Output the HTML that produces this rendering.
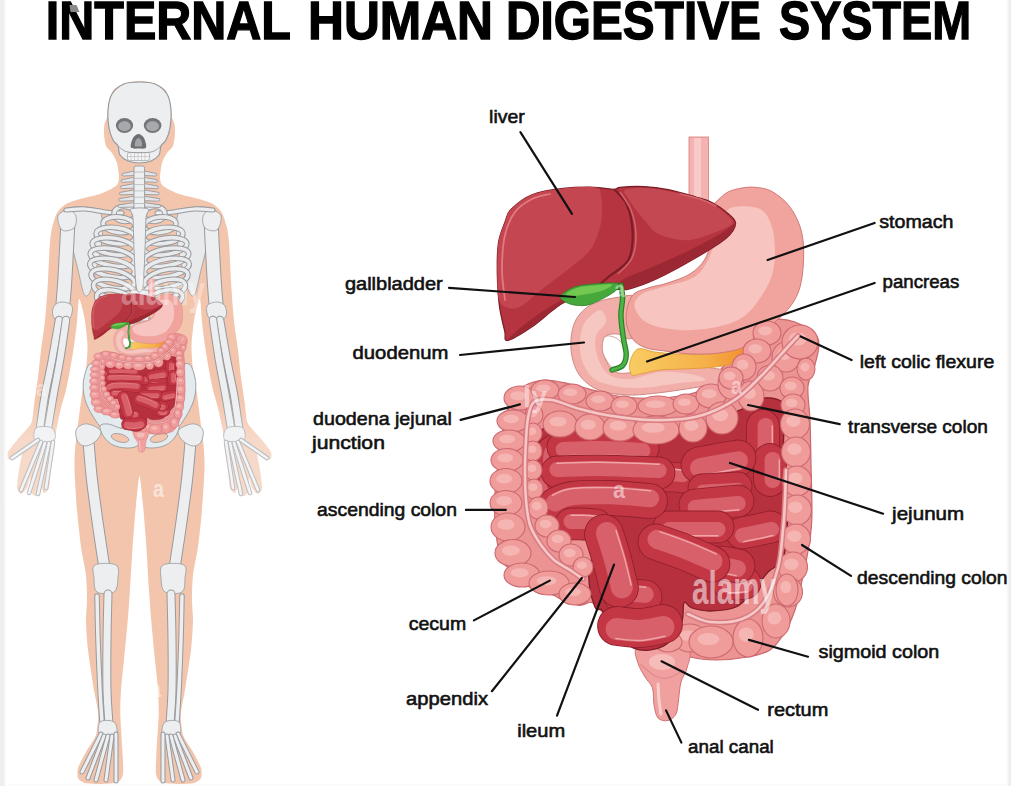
<!DOCTYPE html>
<html><head><meta charset="utf-8"><style>
html,body{margin:0;padding:0;background:#fff;}
body{width:1011px;height:786px;overflow:hidden;}
svg{display:block;}
.lbl{font-family:"Liberation Sans",sans-serif;font-size:19px;fill:#111;stroke:#111;stroke-width:0.6px;}
.ttl{font-family:"Liberation Sans",sans-serif;font-weight:bold;font-size:54px;fill:#000;stroke:#000;stroke-width:1.3px;}
</style></head><body>
<svg width="1011" height="786" viewBox="0 0 1011 786">
<rect x="0" y="0" width="1011" height="786" fill="#fff"/>
<rect x="0" y="0" width="4.2" height="786" fill="#eeeeee"/><rect x="4.2" y="0" width="2" height="786" fill="#f7f7f7"/><rect x="8" y="784" width="1000" height="2" fill="#fafafa"/>
<rect x="1008.2" y="0" width="3" height="786" fill="#eeeeee"/><rect x="1006.5" y="0" width="1.7" height="786" fill="#f8f8f8"/>
<text class="ttl" x="45.8" y="38.6" textLength="245.2" lengthAdjust="spacingAndGlyphs">INTERNAL</text>
<text class="ttl" x="308" y="38.6" textLength="185" lengthAdjust="spacingAndGlyphs">HUMAN</text>
<text class="ttl" x="506" y="38.6" textLength="255" lengthAdjust="spacingAndGlyphs">DIGESTIVE</text>
<text class="ttl" x="779" y="38.6" textLength="192.20000000000002" lengthAdjust="spacingAndGlyphs">SYSTEM</text>
<path d="M139.5,81.0 C136.1,81.0 128.0,82.0 125.0,83.0 C122.0,84.0 115.4,87.8 113.5,90.0 C111.6,92.2 109.7,99.0 109.0,102.0 C108.3,105.0 108.0,113.4 107.5,116.0 C107.0,118.6 104.9,121.9 104.5,124.0 C104.1,126.1 103.8,131.4 104.0,134.0 C104.2,136.6 105.1,143.8 106.0,146.0 C106.9,148.2 110.7,151.0 112.0,153.0 C113.3,155.0 116.2,160.1 117.0,163.0 C117.8,165.9 119.1,175.3 119.0,178.0 C118.9,180.7 118.2,184.1 116.0,186.0 C113.8,187.9 104.2,192.5 100.0,194.0 C95.8,195.5 84.0,197.8 80.0,199.0 C76.0,200.2 68.7,202.4 66.0,204.0 C63.3,205.6 58.6,210.2 57.0,213.0 C55.4,215.8 52.8,224.5 52.0,228.0 C51.2,231.5 50.4,237.1 49.9,243.0 C49.4,248.9 48.5,271.6 48.1,279.0 C47.7,286.4 46.7,300.6 46.3,306.0 C45.9,311.4 45.1,319.9 44.5,325.0 C43.9,330.1 41.7,344.1 41.0,350.0 C40.3,355.9 39.0,369.6 38.2,376.0 C37.4,382.4 34.7,399.6 34.0,405.0 C33.3,410.4 32.7,419.1 31.8,422.0 C30.9,424.9 27.7,427.9 26.0,430.0 C24.3,432.1 19.1,437.4 17.0,440.0 C14.9,442.6 9.0,449.8 8.0,452.0 C7.0,454.2 7.8,458.2 8.5,459.0 C9.2,459.8 12.4,459.8 14.0,459.0 C15.6,458.2 21.4,450.7 22.0,452.0 C22.6,453.3 19.6,465.8 19.0,470.0 C18.4,474.2 16.8,485.2 17.0,488.0 C17.2,490.8 19.8,494.0 21.0,494.0 C22.2,494.0 25.9,489.9 27.0,488.0 C28.1,486.1 29.5,477.5 30.0,478.0 C30.5,478.5 30.3,489.9 31.0,492.0 C31.7,494.1 34.8,496.5 36.0,496.0 C37.2,495.5 40.1,488.4 41.0,488.0 C41.9,487.6 43.1,493.0 44.0,493.0 C44.9,493.0 48.2,490.7 49.0,488.0 C49.8,485.3 50.4,474.2 51.0,470.0 C51.6,465.8 53.4,456.4 54.0,452.0 C54.6,447.6 55.2,437.1 56.0,432.0 C56.8,426.9 59.8,412.9 61.0,408.0 C62.2,403.1 65.0,394.4 66.0,390.0 C67.0,385.6 69.1,375.1 70.0,370.0 C70.9,364.9 73.2,351.6 74.0,346.0 C74.8,340.4 76.5,327.1 77.0,322.0 C77.5,316.9 78.2,304.6 78.5,302.0 C78.8,299.4 79.3,298.1 80.0,300.0 C80.7,301.9 83.6,312.8 84.5,318.0 C85.4,323.2 87.3,338.9 87.5,345.0 C87.7,351.1 86.6,364.3 86.0,370.0 C85.4,375.7 83.0,387.1 82.0,394.0 C81.0,400.9 78.3,422.5 77.5,429.0 C76.7,435.5 75.3,445.2 75.0,450.0 C74.7,454.8 74.3,463.0 74.5,470.0 C74.7,477.0 76.2,501.0 77.0,510.0 C77.8,519.0 80.0,539.4 81.0,547.0 C82.0,554.6 85.3,568.8 86.0,575.0 C86.7,581.2 87.0,594.6 87.0,600.0 C87.0,605.4 85.9,615.2 86.0,621.0 C86.1,626.8 87.1,642.0 88.0,650.0 C88.9,658.0 92.8,682.5 94.0,690.0 C95.2,697.5 98.0,708.8 98.2,714.0 C98.4,719.2 97.4,730.6 96.0,735.0 C94.6,739.4 88.1,748.1 86.0,752.0 C83.9,755.9 78.9,765.0 78.0,768.0 C77.1,771.0 77.2,776.2 78.0,778.0 C78.8,779.8 82.4,782.3 85.0,783.0 C87.6,783.7 96.2,784.1 100.0,784.0 C103.8,783.9 115.3,783.2 118.0,782.0 C120.7,780.8 122.5,777.1 123.0,774.0 C123.5,770.9 123.0,762.0 122.7,755.0 C122.4,748.0 120.5,721.6 120.3,714.0 C120.1,706.4 120.6,696.3 121.0,690.0 C121.4,683.7 123.2,668.0 124.0,660.0 C124.8,652.0 127.0,629.2 127.7,621.0 C128.4,612.8 129.4,598.6 130.0,590.0 C130.6,581.4 131.9,556.9 132.6,547.0 C133.3,537.1 135.2,513.3 136.0,505.0 C136.8,496.7 138.7,476.0 139.5,476.0 C140.3,476.0 142.2,496.7 143.0,505.0 C143.8,513.3 145.7,537.1 146.4,547.0 C147.1,556.9 148.4,581.4 149.0,590.0 C149.6,598.6 150.6,612.8 151.3,621.0 C152.0,629.2 154.2,652.0 155.0,660.0 C155.8,668.0 157.6,683.7 158.0,690.0 C158.4,696.3 158.9,706.4 158.7,714.0 C158.5,721.6 156.6,748.0 156.3,755.0 C156.0,762.0 155.5,770.9 156.0,774.0 C156.5,777.1 158.3,780.8 161.0,782.0 C163.7,783.2 175.2,783.9 179.0,784.0 C182.8,784.1 191.4,783.7 194.0,783.0 C196.6,782.3 200.2,779.8 201.0,778.0 C201.8,776.2 201.9,771.0 201.0,768.0 C200.1,765.0 195.1,755.9 193.0,752.0 C190.9,748.1 184.4,739.4 183.0,735.0 C181.6,730.6 180.6,719.2 180.8,714.0 C181.0,708.8 183.8,697.5 185.0,690.0 C186.2,682.5 190.1,658.0 191.0,650.0 C191.9,642.0 192.9,626.8 193.0,621.0 C193.1,615.2 192.0,605.4 192.0,600.0 C192.0,594.6 192.3,581.2 193.0,575.0 C193.7,568.8 196.9,554.6 198.0,547.0 C199.1,539.4 201.2,519.0 202.0,510.0 C202.8,501.0 204.3,477.0 204.5,470.0 C204.7,463.0 204.3,454.8 204.0,450.0 C203.7,445.2 202.3,435.5 201.5,429.0 C200.7,422.5 198.0,400.9 197.0,394.0 C196.0,387.1 193.6,375.7 193.0,370.0 C192.4,364.3 191.3,351.1 191.5,345.0 C191.7,338.9 193.6,323.2 194.5,318.0 C195.4,312.8 198.3,301.9 199.0,300.0 C199.7,298.1 200.2,299.4 200.5,302.0 C200.8,304.6 201.5,316.9 202.0,322.0 C202.5,327.1 204.2,340.4 205.0,346.0 C205.8,351.6 208.1,364.9 209.0,370.0 C209.9,375.1 211.9,385.6 213.0,390.0 C214.1,394.4 216.8,403.1 218.0,408.0 C219.2,412.9 222.2,426.9 223.0,432.0 C223.8,437.1 224.4,447.6 225.0,452.0 C225.6,456.4 227.4,465.8 228.0,470.0 C228.6,474.2 229.2,485.3 230.0,488.0 C230.8,490.7 234.1,493.0 235.0,493.0 C235.9,493.0 237.1,487.6 238.0,488.0 C238.9,488.4 241.8,495.5 243.0,496.0 C244.2,496.5 247.3,494.1 248.0,492.0 C248.7,489.9 248.5,478.5 249.0,478.0 C249.5,477.5 250.9,486.1 252.0,488.0 C253.1,489.9 256.8,494.0 258.0,494.0 C259.2,494.0 261.8,490.8 262.0,488.0 C262.2,485.2 260.6,474.2 260.0,470.0 C259.4,465.8 256.4,453.3 257.0,452.0 C257.6,450.7 263.4,458.2 265.0,459.0 C266.6,459.8 269.8,459.8 270.5,459.0 C271.2,458.2 272.0,454.2 271.0,452.0 C270.0,449.8 264.1,442.6 262.0,440.0 C259.9,437.4 254.7,432.1 253.0,430.0 C251.3,427.9 248.1,424.9 247.2,422.0 C246.3,419.1 245.7,410.4 245.0,405.0 C244.3,399.6 241.6,382.4 240.8,376.0 C240.0,369.6 238.7,355.9 238.0,350.0 C237.3,344.1 235.1,330.1 234.5,325.0 C233.9,319.9 233.1,311.4 232.7,306.0 C232.3,300.6 231.3,286.4 230.9,279.0 C230.5,271.6 229.6,248.9 229.1,243.0 C228.6,237.1 227.8,231.5 227.0,228.0 C226.2,224.5 223.6,215.8 222.0,213.0 C220.4,210.2 215.7,205.6 213.0,204.0 C210.3,202.4 203.0,200.2 199.0,199.0 C195.0,197.8 183.2,195.5 179.0,194.0 C174.8,192.5 165.2,187.9 163.0,186.0 C160.8,184.1 160.1,180.7 160.0,178.0 C159.9,175.3 161.2,165.9 162.0,163.0 C162.8,160.1 165.7,155.0 167.0,153.0 C168.3,151.0 172.1,148.2 173.0,146.0 C173.9,143.8 174.8,136.6 175.0,134.0 C175.2,131.4 174.9,126.1 174.5,124.0 C174.1,121.9 172.0,118.6 171.5,116.0 C171.0,113.4 170.7,105.0 170.0,102.0 C169.3,99.0 167.4,92.2 165.5,90.0 C163.6,87.8 157.0,84.0 154.0,83.0 C151.0,82.0 142.9,81.0 139.5,81.0Z" fill="#f3c5ac"/>
<path d="M64.0,210.0 C67.0,207.5 74.0,206.7 80.0,207.0 C86.0,207.3 96.3,206.5 100.0,212.0 C103.7,217.5 102.7,230.3 102.0,240.0 C101.3,249.7 98.0,261.3 96.0,270.0 C94.0,278.7 92.0,288.0 90.0,292.0 C88.0,296.0 86.0,297.7 84.0,294.0 C82.0,290.3 80.3,279.0 78.0,270.0 C75.7,261.0 72.7,248.0 70.0,240.0 C67.3,232.0 63.0,227.0 62.0,222.0 C61.0,217.0 61.0,212.5 64.0,210.0Z" fill="#e9eaec" stroke="#979a9e" stroke-width="0.8" />
<path d="M68.0,220.0 C67.8,225.0 67.1,239.2 66.5,250.0 C65.9,260.8 65.2,275.0 64.5,285.0 C63.8,295.0 62.8,305.8 62.5,310.0" fill="none" stroke="#979a9e" stroke-width="15.0" stroke-linecap="round" stroke-linejoin="round"/><path d="M68.0,220.0 C67.8,225.0 67.1,239.2 66.5,250.0 C65.9,260.8 65.2,275.0 64.5,285.0 C63.8,295.0 62.8,305.8 62.5,310.0" fill="none" stroke="#eceef0" stroke-width="13" stroke-linecap="round" stroke-linejoin="round"/>
<path d="M58.0,216.0 C59.0,212.7 65.0,210.0 68.0,210.0 C71.0,210.0 75.0,213.0 76.0,216.0 C77.0,219.0 76.3,225.7 74.0,228.0 C71.7,230.3 64.7,232.0 62.0,230.0 C59.3,228.0 57.0,219.3 58.0,216.0Z" fill="#eceef0" stroke="#979a9e" stroke-width="0.8" />
<path d="M54.0,306.0 C55.5,303.7 59.0,302.0 62.0,302.0 C65.0,302.0 70.7,303.3 72.0,306.0 C73.3,308.7 72.0,315.3 70.0,318.0 C68.0,320.7 62.8,322.3 60.0,322.0 C57.2,321.7 54.0,318.7 53.0,316.0 C52.0,313.3 52.5,308.3 54.0,306.0Z" fill="#eceef0" stroke="#979a9e" stroke-width="0.8" />
<path d="M59.0,320.0 C57.8,326.7 54.3,347.5 52.0,360.0 C49.7,372.5 47.0,383.7 45.0,395.0 C43.0,406.3 40.8,422.5 40.0,428.0" fill="none" stroke="#979a9e" stroke-width="8.5" stroke-linecap="round" stroke-linejoin="round"/><path d="M59.0,320.0 C57.8,326.7 54.3,347.5 52.0,360.0 C49.7,372.5 47.0,383.7 45.0,395.0 C43.0,406.3 40.8,422.5 40.0,428.0" fill="none" stroke="#eceef0" stroke-width="6.5" stroke-linecap="round" stroke-linejoin="round"/>
<path d="M66.0,320.0 C65.0,326.7 62.1,347.5 60.0,360.0 C57.9,372.5 55.5,383.7 53.5,395.0 C51.5,406.3 48.9,422.5 48.0,428.0" fill="none" stroke="#979a9e" stroke-width="8.5" stroke-linecap="round" stroke-linejoin="round"/><path d="M66.0,320.0 C65.0,326.7 62.1,347.5 60.0,360.0 C57.9,372.5 55.5,383.7 53.5,395.0 C51.5,406.3 48.9,422.5 48.0,428.0" fill="none" stroke="#eceef0" stroke-width="6.5" stroke-linecap="round" stroke-linejoin="round"/>
<path d="M36.0,428.0 C38.7,425.7 49.0,426.0 52.0,428.0 C55.0,430.0 56.7,437.7 54.0,440.0 C51.3,442.3 39.0,444.0 36.0,442.0 C33.0,440.0 33.3,430.3 36.0,428.0Z" fill="#eceef0" stroke="#979a9e" stroke-width="0.8" />
<path d="M38.0,440.0 C33.7,443.0 16.3,455.0 12.0,458.0" fill="none" stroke="#979a9e" stroke-width="4.6" stroke-linecap="round" stroke-linejoin="round"/><path d="M38.0,440.0 C33.7,443.0 16.3,455.0 12.0,458.0" fill="none" stroke="#eceef0" stroke-width="2.6" stroke-linecap="round" stroke-linejoin="round"/>
<path d="M41.0,442.0 C37.7,450.0 24.3,482.0 21.0,490.0" fill="none" stroke="#979a9e" stroke-width="4.6" stroke-linecap="round" stroke-linejoin="round"/><path d="M41.0,442.0 C37.7,450.0 24.3,482.0 21.0,490.0" fill="none" stroke="#eceef0" stroke-width="2.6" stroke-linecap="round" stroke-linejoin="round"/>
<path d="M45.0,443.0 C42.3,451.3 31.7,484.7 29.0,493.0" fill="none" stroke="#979a9e" stroke-width="4.6" stroke-linecap="round" stroke-linejoin="round"/><path d="M45.0,443.0 C42.3,451.3 31.7,484.7 29.0,493.0" fill="none" stroke="#eceef0" stroke-width="2.6" stroke-linecap="round" stroke-linejoin="round"/>
<path d="M49.0,443.0 C47.2,451.5 39.8,485.5 38.0,494.0" fill="none" stroke="#979a9e" stroke-width="4.6" stroke-linecap="round" stroke-linejoin="round"/><path d="M49.0,443.0 C47.2,451.5 39.8,485.5 38.0,494.0" fill="none" stroke="#eceef0" stroke-width="2.6" stroke-linecap="round" stroke-linejoin="round"/>
<path d="M53.0,442.0 C51.8,449.7 47.2,480.3 46.0,488.0" fill="none" stroke="#979a9e" stroke-width="4.6" stroke-linecap="round" stroke-linejoin="round"/><path d="M53.0,442.0 C51.8,449.7 47.2,480.3 46.0,488.0" fill="none" stroke="#eceef0" stroke-width="2.6" stroke-linecap="round" stroke-linejoin="round"/>
<path d="M66.0,210.0 C69.2,209.8 78.5,208.7 85.0,209.0 C91.5,209.3 98.8,211.3 105.0,212.0 C111.2,212.7 119.2,212.8 122.0,213.0" fill="none" stroke="#979a9e" stroke-width="5.2" stroke-linecap="round" stroke-linejoin="round"/><path d="M66.0,210.0 C69.2,209.8 78.5,208.7 85.0,209.0 C91.5,209.3 98.8,211.3 105.0,212.0 C111.2,212.7 119.2,212.8 122.0,213.0" fill="none" stroke="#eceef0" stroke-width="3.2" stroke-linecap="round" stroke-linejoin="round"/>
<ellipse cx="124.5" cy="214.0" rx="10.5" ry="7.5" transform="rotate(4.0 124.5 214.0)" fill="none" stroke="#979a9e" stroke-width="5.6"/>
<ellipse cx="124.5" cy="214.0" rx="10.5" ry="7.5" transform="rotate(4.0 124.5 214.0)" fill="none" stroke="#e9eaec" stroke-width="3.6"/>
<ellipse cx="119.0" cy="224.8" rx="16.0" ry="7.8" transform="rotate(5.5 119.0 224.8)" fill="none" stroke="#979a9e" stroke-width="5.6"/>
<ellipse cx="119.0" cy="224.8" rx="16.0" ry="7.8" transform="rotate(5.5 119.0 224.8)" fill="none" stroke="#e9eaec" stroke-width="3.6"/>
<ellipse cx="115.5" cy="235.6" rx="19.5" ry="8.0" transform="rotate(7.0 115.5 235.6)" fill="none" stroke="#979a9e" stroke-width="5.6"/>
<ellipse cx="115.5" cy="235.6" rx="19.5" ry="8.0" transform="rotate(7.0 115.5 235.6)" fill="none" stroke="#e9eaec" stroke-width="3.6"/>
<ellipse cx="113.5" cy="246.4" rx="21.5" ry="8.2" transform="rotate(8.5 113.5 246.4)" fill="none" stroke="#979a9e" stroke-width="5.6"/>
<ellipse cx="113.5" cy="246.4" rx="21.5" ry="8.2" transform="rotate(8.5 113.5 246.4)" fill="none" stroke="#e9eaec" stroke-width="3.6"/>
<ellipse cx="112.5" cy="257.2" rx="22.5" ry="8.5" transform="rotate(10.0 112.5 257.2)" fill="none" stroke="#979a9e" stroke-width="5.6"/>
<ellipse cx="112.5" cy="257.2" rx="22.5" ry="8.5" transform="rotate(10.0 112.5 257.2)" fill="none" stroke="#e9eaec" stroke-width="3.6"/>
<ellipse cx="112.2" cy="268.0" rx="22.8" ry="8.8" transform="rotate(11.5 112.2 268.0)" fill="none" stroke="#979a9e" stroke-width="5.6"/>
<ellipse cx="112.2" cy="268.0" rx="22.8" ry="8.8" transform="rotate(11.5 112.2 268.0)" fill="none" stroke="#e9eaec" stroke-width="3.6"/>
<ellipse cx="112.8" cy="278.8" rx="22.2" ry="9.0" transform="rotate(13.0 112.8 278.8)" fill="none" stroke="#979a9e" stroke-width="5.6"/>
<ellipse cx="112.8" cy="278.8" rx="22.2" ry="9.0" transform="rotate(13.0 112.8 278.8)" fill="none" stroke="#e9eaec" stroke-width="3.6"/>
<ellipse cx="114.0" cy="289.6" rx="21.0" ry="9.2" transform="rotate(14.5 114.0 289.6)" fill="none" stroke="#979a9e" stroke-width="5.6"/>
<ellipse cx="114.0" cy="289.6" rx="21.0" ry="9.2" transform="rotate(14.5 114.0 289.6)" fill="none" stroke="#e9eaec" stroke-width="3.6"/>
<ellipse cx="115.5" cy="300.4" rx="19.5" ry="9.5" transform="rotate(16.0 115.5 300.4)" fill="none" stroke="#979a9e" stroke-width="5.6"/>
<ellipse cx="115.5" cy="300.4" rx="19.5" ry="9.5" transform="rotate(16.0 115.5 300.4)" fill="none" stroke="#e9eaec" stroke-width="3.6"/>
<ellipse cx="117.5" cy="311.2" rx="17.5" ry="9.8" transform="rotate(17.5 117.5 311.2)" fill="none" stroke="#979a9e" stroke-width="5.6"/>
<ellipse cx="117.5" cy="311.2" rx="17.5" ry="9.8" transform="rotate(17.5 117.5 311.2)" fill="none" stroke="#e9eaec" stroke-width="3.6"/>
<path d="M90.0,364.0 C86.7,365.7 85.1,373.3 84.0,378.0 C82.9,382.7 83.0,387.5 83.5,392.0 C84.0,396.5 85.2,400.7 87.0,405.0 C88.8,409.3 91.5,414.2 94.0,418.0 C96.5,421.8 99.0,426.0 102.0,428.0 C105.0,430.0 108.7,430.2 112.0,430.0 C115.3,429.8 119.3,429.7 122.0,427.0 C124.7,424.3 127.3,419.2 128.0,414.0 C128.7,408.8 128.0,401.7 126.0,396.0 C124.0,390.3 119.7,384.7 116.0,380.0 C112.3,375.3 108.3,370.7 104.0,368.0 C99.7,365.3 93.3,362.3 90.0,364.0Z" fill="#e4ebef" stroke="#979a9e" stroke-width="0.9" />
<path d="M100.0,426.0 C99.3,428.2 101.8,433.8 104.0,437.0 C106.2,440.2 109.3,443.2 113.0,445.0 C116.7,446.8 122.0,447.8 126.0,448.0 C130.0,448.2 134.8,447.7 137.0,446.0 C139.2,444.3 140.2,440.5 139.5,438.0 C138.8,435.5 136.2,432.7 133.0,431.0 C129.8,429.3 124.2,429.2 120.0,428.0 C115.8,426.8 111.3,424.3 108.0,424.0 C104.7,423.7 100.7,423.8 100.0,426.0Z" fill="#e4ebef" stroke="#979a9e" stroke-width="0.9" />
<ellipse cx="120" cy="438" rx="9" ry="4" transform="rotate(15 120 438)" fill="#f3c5ac" stroke="#979a9e" stroke-width="0.8"/>
<path d="M88.0,436.0 C88.7,443.3 90.3,465.2 92.0,480.0 C93.7,494.8 96.0,510.8 98.0,525.0 C100.0,539.2 103.0,558.3 104.0,565.0" fill="none" stroke="#979a9e" stroke-width="12.0" stroke-linecap="round" stroke-linejoin="round"/><path d="M88.0,436.0 C88.7,443.3 90.3,465.2 92.0,480.0 C93.7,494.8 96.0,510.8 98.0,525.0 C100.0,539.2 103.0,558.3 104.0,565.0" fill="none" stroke="#eceef0" stroke-width="10" stroke-linecap="round" stroke-linejoin="round"/>
<path d="M76.0,430.0 C77.0,427.0 81.0,424.7 84.0,424.0 C87.0,423.3 91.2,424.7 94.0,426.0 C96.8,427.3 100.7,429.5 101.0,432.0 C101.3,434.5 98.5,438.7 96.0,441.0 C93.5,443.3 89.0,445.8 86.0,446.0 C83.0,446.2 79.7,444.7 78.0,442.0 C76.3,439.3 75.0,433.0 76.0,430.0Z" fill="#eceef0" stroke="#979a9e" stroke-width="0.8" />
<path d="M95.0,565.0 C98.7,562.8 112.2,562.8 116.0,565.0 C119.8,567.2 118.3,573.5 118.0,578.0 C117.7,582.5 117.5,589.7 114.0,592.0 C110.5,594.3 100.3,594.3 97.0,592.0 C93.7,589.7 94.3,582.5 94.0,578.0 C93.7,573.5 91.3,567.2 95.0,565.0Z" fill="#eceef0" stroke="#979a9e" stroke-width="0.8" />
<path d="M108.0,594.0 C107.8,601.7 107.2,624.0 107.0,640.0 C106.8,656.0 106.7,676.0 107.0,690.0 C107.3,704.0 108.7,718.3 109.0,724.0" fill="none" stroke="#979a9e" stroke-width="9.0" stroke-linecap="round" stroke-linejoin="round"/><path d="M108.0,594.0 C107.8,601.7 107.2,624.0 107.0,640.0 C106.8,656.0 106.7,676.0 107.0,690.0 C107.3,704.0 108.7,718.3 109.0,724.0" fill="none" stroke="#eceef0" stroke-width="7" stroke-linecap="round" stroke-linejoin="round"/>
<path d="M97.0,596.0 C97.2,603.3 97.5,624.3 98.0,640.0 C98.5,655.7 99.3,676.3 100.0,690.0 C100.7,703.7 101.7,716.7 102.0,722.0" fill="none" stroke="#979a9e" stroke-width="5.5" stroke-linecap="round" stroke-linejoin="round"/><path d="M97.0,596.0 C97.2,603.3 97.5,624.3 98.0,640.0 C98.5,655.7 99.3,676.3 100.0,690.0 C100.7,703.7 101.7,716.7 102.0,722.0" fill="none" stroke="#eceef0" stroke-width="3.5" stroke-linecap="round" stroke-linejoin="round"/>
<path d="M100.0,722.0 C102.3,719.7 111.3,720.0 114.0,722.0 C116.7,724.0 118.3,731.7 116.0,734.0 C113.7,736.3 102.7,738.0 100.0,736.0 C97.3,734.0 97.7,724.3 100.0,722.0Z" fill="#eceef0" stroke="#979a9e" stroke-width="0.8" />
<path d="M101.0,734.0 C97.8,740.3 85.2,765.7 82.0,772.0" fill="none" stroke="#979a9e" stroke-width="5.0" stroke-linecap="round" stroke-linejoin="round"/><path d="M101.0,734.0 C97.8,740.3 85.2,765.7 82.0,772.0" fill="none" stroke="#eceef0" stroke-width="3" stroke-linecap="round" stroke-linejoin="round"/>
<path d="M104.0,736.0 C101.3,743.0 90.7,771.0 88.0,778.0" fill="none" stroke="#979a9e" stroke-width="5.0" stroke-linecap="round" stroke-linejoin="round"/><path d="M104.0,736.0 C101.3,743.0 90.7,771.0 88.0,778.0" fill="none" stroke="#eceef0" stroke-width="3" stroke-linecap="round" stroke-linejoin="round"/>
<path d="M108.0,736.0 C106.0,743.3 98.0,772.7 96.0,780.0" fill="none" stroke="#979a9e" stroke-width="5.0" stroke-linecap="round" stroke-linejoin="round"/><path d="M108.0,736.0 C106.0,743.3 98.0,772.7 96.0,780.0" fill="none" stroke="#eceef0" stroke-width="3" stroke-linecap="round" stroke-linejoin="round"/>
<path d="M112.0,736.0 C111.0,743.3 107.0,772.7 106.0,780.0" fill="none" stroke="#979a9e" stroke-width="5.0" stroke-linecap="round" stroke-linejoin="round"/><path d="M112.0,736.0 C111.0,743.3 107.0,772.7 106.0,780.0" fill="none" stroke="#eceef0" stroke-width="3" stroke-linecap="round" stroke-linejoin="round"/>
<path d="M116.0,734.0 C116.0,741.8 116.0,773.2 116.0,781.0" fill="none" stroke="#979a9e" stroke-width="5.0" stroke-linecap="round" stroke-linejoin="round"/><path d="M116.0,734.0 C116.0,741.8 116.0,773.2 116.0,781.0" fill="none" stroke="#eceef0" stroke-width="3" stroke-linecap="round" stroke-linejoin="round"/>
<g transform="matrix(-1,0,0,1,279,0)"><path d="M64.0,210.0 C67.0,207.5 74.0,206.7 80.0,207.0 C86.0,207.3 96.3,206.5 100.0,212.0 C103.7,217.5 102.7,230.3 102.0,240.0 C101.3,249.7 98.0,261.3 96.0,270.0 C94.0,278.7 92.0,288.0 90.0,292.0 C88.0,296.0 86.0,297.7 84.0,294.0 C82.0,290.3 80.3,279.0 78.0,270.0 C75.7,261.0 72.7,248.0 70.0,240.0 C67.3,232.0 63.0,227.0 62.0,222.0 C61.0,217.0 61.0,212.5 64.0,210.0Z" fill="#e9eaec" stroke="#979a9e" stroke-width="0.8" />
<path d="M68.0,220.0 C67.8,225.0 67.1,239.2 66.5,250.0 C65.9,260.8 65.2,275.0 64.5,285.0 C63.8,295.0 62.8,305.8 62.5,310.0" fill="none" stroke="#979a9e" stroke-width="15.0" stroke-linecap="round" stroke-linejoin="round"/><path d="M68.0,220.0 C67.8,225.0 67.1,239.2 66.5,250.0 C65.9,260.8 65.2,275.0 64.5,285.0 C63.8,295.0 62.8,305.8 62.5,310.0" fill="none" stroke="#eceef0" stroke-width="13" stroke-linecap="round" stroke-linejoin="round"/>
<path d="M58.0,216.0 C59.0,212.7 65.0,210.0 68.0,210.0 C71.0,210.0 75.0,213.0 76.0,216.0 C77.0,219.0 76.3,225.7 74.0,228.0 C71.7,230.3 64.7,232.0 62.0,230.0 C59.3,228.0 57.0,219.3 58.0,216.0Z" fill="#eceef0" stroke="#979a9e" stroke-width="0.8" />
<path d="M54.0,306.0 C55.5,303.7 59.0,302.0 62.0,302.0 C65.0,302.0 70.7,303.3 72.0,306.0 C73.3,308.7 72.0,315.3 70.0,318.0 C68.0,320.7 62.8,322.3 60.0,322.0 C57.2,321.7 54.0,318.7 53.0,316.0 C52.0,313.3 52.5,308.3 54.0,306.0Z" fill="#eceef0" stroke="#979a9e" stroke-width="0.8" />
<path d="M59.0,320.0 C57.8,326.7 54.3,347.5 52.0,360.0 C49.7,372.5 47.0,383.7 45.0,395.0 C43.0,406.3 40.8,422.5 40.0,428.0" fill="none" stroke="#979a9e" stroke-width="8.5" stroke-linecap="round" stroke-linejoin="round"/><path d="M59.0,320.0 C57.8,326.7 54.3,347.5 52.0,360.0 C49.7,372.5 47.0,383.7 45.0,395.0 C43.0,406.3 40.8,422.5 40.0,428.0" fill="none" stroke="#eceef0" stroke-width="6.5" stroke-linecap="round" stroke-linejoin="round"/>
<path d="M66.0,320.0 C65.0,326.7 62.1,347.5 60.0,360.0 C57.9,372.5 55.5,383.7 53.5,395.0 C51.5,406.3 48.9,422.5 48.0,428.0" fill="none" stroke="#979a9e" stroke-width="8.5" stroke-linecap="round" stroke-linejoin="round"/><path d="M66.0,320.0 C65.0,326.7 62.1,347.5 60.0,360.0 C57.9,372.5 55.5,383.7 53.5,395.0 C51.5,406.3 48.9,422.5 48.0,428.0" fill="none" stroke="#eceef0" stroke-width="6.5" stroke-linecap="round" stroke-linejoin="round"/>
<path d="M36.0,428.0 C38.7,425.7 49.0,426.0 52.0,428.0 C55.0,430.0 56.7,437.7 54.0,440.0 C51.3,442.3 39.0,444.0 36.0,442.0 C33.0,440.0 33.3,430.3 36.0,428.0Z" fill="#eceef0" stroke="#979a9e" stroke-width="0.8" />
<path d="M38.0,440.0 C33.7,443.0 16.3,455.0 12.0,458.0" fill="none" stroke="#979a9e" stroke-width="4.6" stroke-linecap="round" stroke-linejoin="round"/><path d="M38.0,440.0 C33.7,443.0 16.3,455.0 12.0,458.0" fill="none" stroke="#eceef0" stroke-width="2.6" stroke-linecap="round" stroke-linejoin="round"/>
<path d="M41.0,442.0 C37.7,450.0 24.3,482.0 21.0,490.0" fill="none" stroke="#979a9e" stroke-width="4.6" stroke-linecap="round" stroke-linejoin="round"/><path d="M41.0,442.0 C37.7,450.0 24.3,482.0 21.0,490.0" fill="none" stroke="#eceef0" stroke-width="2.6" stroke-linecap="round" stroke-linejoin="round"/>
<path d="M45.0,443.0 C42.3,451.3 31.7,484.7 29.0,493.0" fill="none" stroke="#979a9e" stroke-width="4.6" stroke-linecap="round" stroke-linejoin="round"/><path d="M45.0,443.0 C42.3,451.3 31.7,484.7 29.0,493.0" fill="none" stroke="#eceef0" stroke-width="2.6" stroke-linecap="round" stroke-linejoin="round"/>
<path d="M49.0,443.0 C47.2,451.5 39.8,485.5 38.0,494.0" fill="none" stroke="#979a9e" stroke-width="4.6" stroke-linecap="round" stroke-linejoin="round"/><path d="M49.0,443.0 C47.2,451.5 39.8,485.5 38.0,494.0" fill="none" stroke="#eceef0" stroke-width="2.6" stroke-linecap="round" stroke-linejoin="round"/>
<path d="M53.0,442.0 C51.8,449.7 47.2,480.3 46.0,488.0" fill="none" stroke="#979a9e" stroke-width="4.6" stroke-linecap="round" stroke-linejoin="round"/><path d="M53.0,442.0 C51.8,449.7 47.2,480.3 46.0,488.0" fill="none" stroke="#eceef0" stroke-width="2.6" stroke-linecap="round" stroke-linejoin="round"/>
<path d="M66.0,210.0 C69.2,209.8 78.5,208.7 85.0,209.0 C91.5,209.3 98.8,211.3 105.0,212.0 C111.2,212.7 119.2,212.8 122.0,213.0" fill="none" stroke="#979a9e" stroke-width="5.2" stroke-linecap="round" stroke-linejoin="round"/><path d="M66.0,210.0 C69.2,209.8 78.5,208.7 85.0,209.0 C91.5,209.3 98.8,211.3 105.0,212.0 C111.2,212.7 119.2,212.8 122.0,213.0" fill="none" stroke="#eceef0" stroke-width="3.2" stroke-linecap="round" stroke-linejoin="round"/>
<ellipse cx="124.5" cy="214.0" rx="10.5" ry="7.5" transform="rotate(4.0 124.5 214.0)" fill="none" stroke="#979a9e" stroke-width="5.6"/>
<ellipse cx="124.5" cy="214.0" rx="10.5" ry="7.5" transform="rotate(4.0 124.5 214.0)" fill="none" stroke="#e9eaec" stroke-width="3.6"/>
<ellipse cx="119.0" cy="224.8" rx="16.0" ry="7.8" transform="rotate(5.5 119.0 224.8)" fill="none" stroke="#979a9e" stroke-width="5.6"/>
<ellipse cx="119.0" cy="224.8" rx="16.0" ry="7.8" transform="rotate(5.5 119.0 224.8)" fill="none" stroke="#e9eaec" stroke-width="3.6"/>
<ellipse cx="115.5" cy="235.6" rx="19.5" ry="8.0" transform="rotate(7.0 115.5 235.6)" fill="none" stroke="#979a9e" stroke-width="5.6"/>
<ellipse cx="115.5" cy="235.6" rx="19.5" ry="8.0" transform="rotate(7.0 115.5 235.6)" fill="none" stroke="#e9eaec" stroke-width="3.6"/>
<ellipse cx="113.5" cy="246.4" rx="21.5" ry="8.2" transform="rotate(8.5 113.5 246.4)" fill="none" stroke="#979a9e" stroke-width="5.6"/>
<ellipse cx="113.5" cy="246.4" rx="21.5" ry="8.2" transform="rotate(8.5 113.5 246.4)" fill="none" stroke="#e9eaec" stroke-width="3.6"/>
<ellipse cx="112.5" cy="257.2" rx="22.5" ry="8.5" transform="rotate(10.0 112.5 257.2)" fill="none" stroke="#979a9e" stroke-width="5.6"/>
<ellipse cx="112.5" cy="257.2" rx="22.5" ry="8.5" transform="rotate(10.0 112.5 257.2)" fill="none" stroke="#e9eaec" stroke-width="3.6"/>
<ellipse cx="112.2" cy="268.0" rx="22.8" ry="8.8" transform="rotate(11.5 112.2 268.0)" fill="none" stroke="#979a9e" stroke-width="5.6"/>
<ellipse cx="112.2" cy="268.0" rx="22.8" ry="8.8" transform="rotate(11.5 112.2 268.0)" fill="none" stroke="#e9eaec" stroke-width="3.6"/>
<ellipse cx="112.8" cy="278.8" rx="22.2" ry="9.0" transform="rotate(13.0 112.8 278.8)" fill="none" stroke="#979a9e" stroke-width="5.6"/>
<ellipse cx="112.8" cy="278.8" rx="22.2" ry="9.0" transform="rotate(13.0 112.8 278.8)" fill="none" stroke="#e9eaec" stroke-width="3.6"/>
<ellipse cx="114.0" cy="289.6" rx="21.0" ry="9.2" transform="rotate(14.5 114.0 289.6)" fill="none" stroke="#979a9e" stroke-width="5.6"/>
<ellipse cx="114.0" cy="289.6" rx="21.0" ry="9.2" transform="rotate(14.5 114.0 289.6)" fill="none" stroke="#e9eaec" stroke-width="3.6"/>
<ellipse cx="115.5" cy="300.4" rx="19.5" ry="9.5" transform="rotate(16.0 115.5 300.4)" fill="none" stroke="#979a9e" stroke-width="5.6"/>
<ellipse cx="115.5" cy="300.4" rx="19.5" ry="9.5" transform="rotate(16.0 115.5 300.4)" fill="none" stroke="#e9eaec" stroke-width="3.6"/>
<ellipse cx="117.5" cy="311.2" rx="17.5" ry="9.8" transform="rotate(17.5 117.5 311.2)" fill="none" stroke="#979a9e" stroke-width="5.6"/>
<ellipse cx="117.5" cy="311.2" rx="17.5" ry="9.8" transform="rotate(17.5 117.5 311.2)" fill="none" stroke="#e9eaec" stroke-width="3.6"/>
<path d="M90.0,364.0 C86.7,365.7 85.1,373.3 84.0,378.0 C82.9,382.7 83.0,387.5 83.5,392.0 C84.0,396.5 85.2,400.7 87.0,405.0 C88.8,409.3 91.5,414.2 94.0,418.0 C96.5,421.8 99.0,426.0 102.0,428.0 C105.0,430.0 108.7,430.2 112.0,430.0 C115.3,429.8 119.3,429.7 122.0,427.0 C124.7,424.3 127.3,419.2 128.0,414.0 C128.7,408.8 128.0,401.7 126.0,396.0 C124.0,390.3 119.7,384.7 116.0,380.0 C112.3,375.3 108.3,370.7 104.0,368.0 C99.7,365.3 93.3,362.3 90.0,364.0Z" fill="#e4ebef" stroke="#979a9e" stroke-width="0.9" />
<path d="M100.0,426.0 C99.3,428.2 101.8,433.8 104.0,437.0 C106.2,440.2 109.3,443.2 113.0,445.0 C116.7,446.8 122.0,447.8 126.0,448.0 C130.0,448.2 134.8,447.7 137.0,446.0 C139.2,444.3 140.2,440.5 139.5,438.0 C138.8,435.5 136.2,432.7 133.0,431.0 C129.8,429.3 124.2,429.2 120.0,428.0 C115.8,426.8 111.3,424.3 108.0,424.0 C104.7,423.7 100.7,423.8 100.0,426.0Z" fill="#e4ebef" stroke="#979a9e" stroke-width="0.9" />
<ellipse cx="120" cy="438" rx="9" ry="4" transform="rotate(15 120 438)" fill="#f3c5ac" stroke="#979a9e" stroke-width="0.8"/>
<path d="M88.0,436.0 C88.7,443.3 90.3,465.2 92.0,480.0 C93.7,494.8 96.0,510.8 98.0,525.0 C100.0,539.2 103.0,558.3 104.0,565.0" fill="none" stroke="#979a9e" stroke-width="12.0" stroke-linecap="round" stroke-linejoin="round"/><path d="M88.0,436.0 C88.7,443.3 90.3,465.2 92.0,480.0 C93.7,494.8 96.0,510.8 98.0,525.0 C100.0,539.2 103.0,558.3 104.0,565.0" fill="none" stroke="#eceef0" stroke-width="10" stroke-linecap="round" stroke-linejoin="round"/>
<path d="M76.0,430.0 C77.0,427.0 81.0,424.7 84.0,424.0 C87.0,423.3 91.2,424.7 94.0,426.0 C96.8,427.3 100.7,429.5 101.0,432.0 C101.3,434.5 98.5,438.7 96.0,441.0 C93.5,443.3 89.0,445.8 86.0,446.0 C83.0,446.2 79.7,444.7 78.0,442.0 C76.3,439.3 75.0,433.0 76.0,430.0Z" fill="#eceef0" stroke="#979a9e" stroke-width="0.8" />
<path d="M95.0,565.0 C98.7,562.8 112.2,562.8 116.0,565.0 C119.8,567.2 118.3,573.5 118.0,578.0 C117.7,582.5 117.5,589.7 114.0,592.0 C110.5,594.3 100.3,594.3 97.0,592.0 C93.7,589.7 94.3,582.5 94.0,578.0 C93.7,573.5 91.3,567.2 95.0,565.0Z" fill="#eceef0" stroke="#979a9e" stroke-width="0.8" />
<path d="M108.0,594.0 C107.8,601.7 107.2,624.0 107.0,640.0 C106.8,656.0 106.7,676.0 107.0,690.0 C107.3,704.0 108.7,718.3 109.0,724.0" fill="none" stroke="#979a9e" stroke-width="9.0" stroke-linecap="round" stroke-linejoin="round"/><path d="M108.0,594.0 C107.8,601.7 107.2,624.0 107.0,640.0 C106.8,656.0 106.7,676.0 107.0,690.0 C107.3,704.0 108.7,718.3 109.0,724.0" fill="none" stroke="#eceef0" stroke-width="7" stroke-linecap="round" stroke-linejoin="round"/>
<path d="M97.0,596.0 C97.2,603.3 97.5,624.3 98.0,640.0 C98.5,655.7 99.3,676.3 100.0,690.0 C100.7,703.7 101.7,716.7 102.0,722.0" fill="none" stroke="#979a9e" stroke-width="5.5" stroke-linecap="round" stroke-linejoin="round"/><path d="M97.0,596.0 C97.2,603.3 97.5,624.3 98.0,640.0 C98.5,655.7 99.3,676.3 100.0,690.0 C100.7,703.7 101.7,716.7 102.0,722.0" fill="none" stroke="#eceef0" stroke-width="3.5" stroke-linecap="round" stroke-linejoin="round"/>
<path d="M100.0,722.0 C102.3,719.7 111.3,720.0 114.0,722.0 C116.7,724.0 118.3,731.7 116.0,734.0 C113.7,736.3 102.7,738.0 100.0,736.0 C97.3,734.0 97.7,724.3 100.0,722.0Z" fill="#eceef0" stroke="#979a9e" stroke-width="0.8" />
<path d="M101.0,734.0 C97.8,740.3 85.2,765.7 82.0,772.0" fill="none" stroke="#979a9e" stroke-width="5.0" stroke-linecap="round" stroke-linejoin="round"/><path d="M101.0,734.0 C97.8,740.3 85.2,765.7 82.0,772.0" fill="none" stroke="#eceef0" stroke-width="3" stroke-linecap="round" stroke-linejoin="round"/>
<path d="M104.0,736.0 C101.3,743.0 90.7,771.0 88.0,778.0" fill="none" stroke="#979a9e" stroke-width="5.0" stroke-linecap="round" stroke-linejoin="round"/><path d="M104.0,736.0 C101.3,743.0 90.7,771.0 88.0,778.0" fill="none" stroke="#eceef0" stroke-width="3" stroke-linecap="round" stroke-linejoin="round"/>
<path d="M108.0,736.0 C106.0,743.3 98.0,772.7 96.0,780.0" fill="none" stroke="#979a9e" stroke-width="5.0" stroke-linecap="round" stroke-linejoin="round"/><path d="M108.0,736.0 C106.0,743.3 98.0,772.7 96.0,780.0" fill="none" stroke="#eceef0" stroke-width="3" stroke-linecap="round" stroke-linejoin="round"/>
<path d="M112.0,736.0 C111.0,743.3 107.0,772.7 106.0,780.0" fill="none" stroke="#979a9e" stroke-width="5.0" stroke-linecap="round" stroke-linejoin="round"/><path d="M112.0,736.0 C111.0,743.3 107.0,772.7 106.0,780.0" fill="none" stroke="#eceef0" stroke-width="3" stroke-linecap="round" stroke-linejoin="round"/>
<path d="M116.0,734.0 C116.0,741.8 116.0,773.2 116.0,781.0" fill="none" stroke="#979a9e" stroke-width="5.0" stroke-linecap="round" stroke-linejoin="round"/><path d="M116.0,734.0 C116.0,741.8 116.0,773.2 116.0,781.0" fill="none" stroke="#eceef0" stroke-width="3" stroke-linecap="round" stroke-linejoin="round"/></g>
<path d="M134.3,171.0 L122.30000000000001,173.5 Q120.80000000000001,175.5 123.30000000000001,176.0 L134.3,175.5Z" fill="#e4e5e8" stroke="#979a9e" stroke-width="0.9"/>
<path d="M144.3,171.0 L156.3,173.5 Q157.8,175.5 155.3,176.0 L144.3,175.5Z" fill="#e4e5e8" stroke="#979a9e" stroke-width="0.9"/>
<path d="M134.3,177.3 L121.50000000000001,179.8 Q120.00000000000001,181.8 122.50000000000001,182.3 L134.3,181.8Z" fill="#e4e5e8" stroke="#979a9e" stroke-width="0.9"/>
<path d="M144.3,177.3 L157.10000000000002,179.8 Q158.60000000000002,181.8 156.10000000000002,182.3 L144.3,181.8Z" fill="#e4e5e8" stroke="#979a9e" stroke-width="0.9"/>
<path d="M134.3,183.6 L120.70000000000002,186.1 Q119.20000000000002,188.1 121.70000000000002,188.6 L134.3,188.1Z" fill="#e4e5e8" stroke="#979a9e" stroke-width="0.9"/>
<path d="M144.3,183.6 L157.9,186.1 Q159.4,188.1 156.9,188.6 L144.3,188.1Z" fill="#e4e5e8" stroke="#979a9e" stroke-width="0.9"/>
<path d="M134.3,189.9 L119.9,192.4 Q118.4,194.4 120.9,194.9 L134.3,194.4Z" fill="#e4e5e8" stroke="#979a9e" stroke-width="0.9"/>
<path d="M144.3,189.9 L158.70000000000002,192.4 Q160.20000000000002,194.4 157.70000000000002,194.9 L144.3,194.4Z" fill="#e4e5e8" stroke="#979a9e" stroke-width="0.9"/>
<path d="M134.3,196.2 L119.10000000000001,198.7 Q117.60000000000001,200.7 120.10000000000001,201.2 L134.3,200.7Z" fill="#e4e5e8" stroke="#979a9e" stroke-width="0.9"/>
<path d="M144.3,196.2 L159.5,198.7 Q161.0,200.7 158.5,201.2 L144.3,200.7Z" fill="#e4e5e8" stroke="#979a9e" stroke-width="0.9"/>
<path d="M134.3,202.5 L118.30000000000001,205.0 Q116.80000000000001,207.0 119.30000000000001,207.5 L134.3,207.0Z" fill="#e4e5e8" stroke="#979a9e" stroke-width="0.9"/>
<path d="M144.3,202.5 L160.3,205.0 Q161.8,207.0 159.3,207.5 L144.3,207.0Z" fill="#e4e5e8" stroke="#979a9e" stroke-width="0.9"/>
<rect x="134" y="166" width="10.6" height="44" rx="2" fill="#eeeff1" stroke="#979a9e" stroke-width="0.9"/>
<line x1="134" y1="172.0" x2="144.6" y2="172.0" stroke="#b5b6b9" stroke-width="0.8"/>
<line x1="134" y1="178.3" x2="144.6" y2="178.3" stroke="#b5b6b9" stroke-width="0.8"/>
<line x1="134" y1="184.6" x2="144.6" y2="184.6" stroke="#b5b6b9" stroke-width="0.8"/>
<line x1="134" y1="190.9" x2="144.6" y2="190.9" stroke="#b5b6b9" stroke-width="0.8"/>
<line x1="134" y1="197.2" x2="144.6" y2="197.2" stroke="#b5b6b9" stroke-width="0.8"/>
<line x1="134" y1="203.5" x2="144.6" y2="203.5" stroke="#b5b6b9" stroke-width="0.8"/>
<rect x="130" y="290" width="19" height="9" rx="3" fill="#eceef0" stroke="#979a9e" stroke-width="0.8"/>
<rect x="130" y="301" width="19" height="9" rx="3" fill="#eceef0" stroke="#979a9e" stroke-width="0.8"/>
<rect x="130" y="312" width="19" height="9" rx="3" fill="#eceef0" stroke="#979a9e" stroke-width="0.8"/>
<rect x="130" y="323" width="19" height="9" rx="3" fill="#eceef0" stroke="#979a9e" stroke-width="0.8"/>
<rect x="130" y="334" width="19" height="9" rx="3" fill="#eceef0" stroke="#979a9e" stroke-width="0.8"/>
<rect x="130" y="345" width="19" height="9" rx="3" fill="#eceef0" stroke="#979a9e" stroke-width="0.8"/>
<rect x="130" y="356" width="19" height="9" rx="3" fill="#eceef0" stroke="#979a9e" stroke-width="0.8"/>
<rect x="130" y="367" width="19" height="9" rx="3" fill="#eceef0" stroke="#979a9e" stroke-width="0.8"/>
<path d="M131.0,209.0 C133.5,207.5 145.5,207.5 148.0,209.0 C150.5,210.5 146.5,211.2 146.0,218.0 C145.5,224.8 145.5,238.8 145.0,250.0 C144.5,261.2 143.9,278.0 143.0,285.0 C142.1,292.0 140.7,292.0 139.5,292.0 C138.3,292.0 136.9,292.0 136.0,285.0 C135.1,278.0 134.5,261.2 134.0,250.0 C133.5,238.8 133.5,224.8 133.0,218.0 C132.5,211.2 128.5,210.5 131.0,209.0Z" fill="#eceef0" stroke="#979a9e" stroke-width="0.9" />
<path d="M126.0,380.0 C130.0,375.0 149.0,375.0 153.0,380.0 C157.0,385.0 152.2,402.5 150.0,410.0 C147.8,417.5 143.0,425.0 139.5,425.0 C136.0,425.0 131.2,417.5 129.0,410.0 C126.8,402.5 122.0,385.0 126.0,380.0Z" fill="#e6ebee" stroke="#979a9e" stroke-width="0.8" />
<path d="M139.5,82.0 C134.3,82.0 128.6,82.0 124.0,84.0 C119.4,86.0 114.7,89.7 112.0,94.0 C109.3,98.3 108.5,104.3 108.0,110.0 C107.5,115.7 108.2,123.0 109.0,128.0 C109.8,133.0 111.5,137.0 113.0,140.0 C114.5,143.0 116.8,143.5 118.0,146.0 C119.2,148.5 118.3,152.5 120.0,155.0 C121.7,157.5 124.8,159.7 128.0,161.0 C131.2,162.3 135.7,163.0 139.5,163.0 C143.3,163.0 147.8,162.3 151.0,161.0 C154.2,159.7 157.3,157.5 159.0,155.0 C160.7,152.5 159.8,148.5 161.0,146.0 C162.2,143.5 164.5,143.0 166.0,140.0 C167.5,137.0 169.2,133.0 170.0,128.0 C170.8,123.0 171.5,115.7 171.0,110.0 C170.5,104.3 169.7,98.3 167.0,94.0 C164.3,89.7 159.6,86.0 155.0,84.0 C150.4,82.0 144.7,82.0 139.5,82.0Z" fill="#eceef0" stroke="#979a9e" stroke-width="1.2" />
<ellipse cx="124.5" cy="125.5" rx="8.6" ry="7.4" fill="#747579"/><ellipse cx="124.5" cy="126.3" rx="6.2" ry="5" fill="#a8a9ac"/>
<ellipse cx="152.6" cy="125.5" rx="8.8" ry="7.4" fill="#747579"/><ellipse cx="152.6" cy="126.3" rx="6.4" ry="5" fill="#a8a9ac"/>
<path d="M138.5,134.0 C140.3,134.0 142.8,135.8 144.0,138.0 C145.2,140.2 146.8,145.8 146.0,147.5 C145.2,149.2 141.5,148.5 139.0,148.5 C136.5,148.5 132.0,149.2 131.0,147.5 C130.0,145.8 131.8,140.2 133.0,138.0 C134.2,135.8 136.7,134.0 138.5,134.0Z" fill="#6f7074" stroke="none" stroke-width="1" />
<path d="M138.5,138.0 C139.5,138.0 140.9,139.7 141.5,141.0 C142.1,142.3 142.4,145.1 142.0,146.0 C141.6,146.9 140.2,146.5 139.0,146.5 C137.8,146.5 135.6,146.9 135.0,146.0 C134.4,145.1 134.9,142.3 135.5,141.0 C136.1,139.7 137.5,138.0 138.5,138.0Z" fill="#a3a4a7" stroke="none" stroke-width="1" />
<rect x="127.5" y="152.5" width="22" height="8" rx="2" fill="#f5f5f6" stroke="#a9aaad" stroke-width="0.8"/>
<path d="M131,152.5V160.5M134.5,152.5V160.5M138,152.5V160.5M141.5,152.5V160.5M145,152.5V160.5M127.5,156.5H149.5" stroke="#b5b6b9" stroke-width="0.6"/>
<path d="M118.0,146.0 C119.7,147.0 122.5,151.0 128.0,152.0 C133.5,153.0 145.5,153.0 151.0,152.0 C156.5,151.0 159.3,147.0 161.0,146.0" fill="none" stroke="#979a9e" stroke-width="0.9" />
<use href="#org" transform="translate(-56.0,238.3) scale(0.297)"/>
<defs><linearGradient id="hf" gradientUnits="userSpaceOnUse" x1="0" y1="395" x2="0" y2="440"><stop offset="0" stop-color="#fff" stop-opacity="0"/><stop offset="1" stop-color="#fff" stop-opacity="0.35"/></linearGradient></defs>
<path d="M4,395 L66,395 L62,500 L4,500Z" fill="url(#hf)"/>
<g transform="matrix(-1,0,0,1,279,0)"><path d="M4,395 L66,395 L62,500 L4,500Z" fill="url(#hf)"/></g><g id="org"><rect x="689" y="137" width="19.5" height="75" fill="#f4b3b0" stroke="#d98884" stroke-width="0.9"/>
<rect x="694" y="138" width="7" height="70" fill="#f8cbc8"/>
<path d="M591.8,602.3 C588.4,601.5 584.2,605.5 579.6,605.3 C575.0,605.0 568.9,602.6 564.3,600.8 C559.7,599.0 556.4,596.0 552.0,594.7 C547.6,593.4 542.0,594.5 538.0,593.0 C534.0,591.5 532.5,589.3 527.7,585.5 C522.9,581.7 514.2,576.1 509.4,570.2 C504.6,564.4 501.4,558.3 499.0,550.4 C496.6,542.5 495.7,531.3 495.0,522.9 C494.3,514.5 494.7,506.4 494.8,500.0 C494.9,493.6 494.8,493.4 495.7,484.5 C496.6,475.6 498.9,457.1 500.5,446.3 C502.1,435.6 503.1,428.1 505.0,420.0 C506.9,411.9 508.8,403.7 512.0,398.0 C515.2,392.3 518.5,389.0 524.0,386.0 C529.5,383.0 537.3,380.3 545.0,380.0 C552.7,379.7 560.8,382.0 570.0,384.0 C579.2,386.0 591.1,389.8 600.0,392.0 C608.9,394.2 613.7,396.0 623.5,397.0 C633.3,398.0 647.9,398.5 659.0,398.0 C670.1,397.5 681.7,396.1 690.0,394.0 C698.3,391.9 703.3,390.0 708.6,385.7 C713.9,381.4 717.1,373.9 722.0,368.0 C726.9,362.1 733.0,355.7 738.0,350.0 C743.0,344.3 747.3,339.0 752.0,334.0 C756.7,329.0 758.8,322.0 766.0,320.0 C773.2,318.0 786.4,318.9 795.0,322.0 C803.6,325.1 814.6,331.4 817.9,338.6 C821.2,345.8 816.6,357.1 815.0,365.0 C813.4,372.9 808.8,376.8 808.0,386.0 C807.2,395.2 809.5,407.0 810.0,420.0 C810.5,433.0 810.7,447.3 811.0,464.0 C811.3,480.7 812.4,505.1 811.8,520.0 C811.2,534.9 809.6,541.8 807.6,553.5 C805.6,565.2 802.1,580.6 800.0,590.0 C797.9,599.4 797.5,603.0 795.0,610.0 C792.5,617.0 789.2,625.3 785.0,632.0 C780.8,638.7 776.3,645.8 770.0,650.0 C763.7,654.2 756.2,655.3 747.3,657.0 C738.4,658.7 726.2,660.0 716.7,660.0 C707.2,660.0 695.1,658.3 690.0,657.0 C684.9,655.7 691.0,652.8 686.0,652.0 C681.0,651.2 667.7,654.0 660.0,652.0 C652.3,650.0 646.7,644.5 640.0,640.0 C633.3,635.5 626.7,630.0 620.0,625.0 C613.3,620.0 604.7,613.8 600.0,610.0 C595.3,606.2 595.2,603.1 591.8,602.3Z" fill="#eb9493" stroke="#c9686b" stroke-width="1.2" />
<path d="M637.0,648.0 C641.0,645.2 653.4,645.7 662.0,646.0 C670.6,646.3 684.3,646.3 688.5,650.0 C692.7,653.7 688.2,662.7 687.0,668.0 C685.8,673.3 682.4,676.7 681.0,682.0 C679.6,687.3 679.3,694.7 678.5,700.0 C677.7,705.3 677.8,710.6 676.0,714.0 C674.2,717.4 671.0,719.8 668.0,720.5 C665.0,721.2 660.3,720.6 658.0,718.0 C655.7,715.4 654.9,710.0 654.0,705.0 C653.1,700.0 654.0,692.7 652.5,688.0 C651.0,683.3 647.4,681.2 645.0,677.0 C642.6,672.8 639.3,667.8 638.0,663.0 C636.7,658.2 633.0,650.8 637.0,648.0Z" fill="#f0a09e" stroke="#d27274" stroke-width="1" />
<path d="M640.0,664.0 C642.5,666.0 650.3,673.7 655.0,676.0 C659.7,678.3 663.2,679.0 668.0,678.0 C672.8,677.0 681.3,671.3 684.0,670.0" fill="none" stroke="#e08a8c" stroke-width="1.2" />
<ellipse cx="662" cy="662" rx="13" ry="8" fill="#f6bcb9"/>
<path d="M658.0,684.0 C658.2,686.7 658.5,695.0 659.0,700.0 C659.5,705.0 660.7,711.7 661.0,714.0" fill="none" stroke="#f8cfcc" stroke-width="3" stroke-linecap="round"/>
<ellipse cx="690" cy="638" rx="17" ry="14" transform="rotate(0 690 638)" fill="#ef9c9b" stroke="#cd6870" stroke-width="1.1"/><ellipse cx="688.0" cy="635.5" rx="8.5" ry="5.3" transform="rotate(0 690 638)" fill="#f5b6b3"/>
<ellipse cx="668" cy="642" rx="14" ry="10" transform="rotate(0 668 642)" fill="#ef9c9b" stroke="#cd6870" stroke-width="1.1"/><ellipse cx="666.3" cy="640.2" rx="7.0" ry="3.8" transform="rotate(0 668 642)" fill="#f5b6b3"/>
<path d="M640.0,298.0 C634.8,292.7 621.9,296.8 613.7,298.0 C605.5,299.2 596.8,301.5 590.6,305.0 C584.4,308.5 579.7,313.4 576.4,319.0 C573.1,324.6 571.6,332.0 571.0,338.8 C570.4,345.6 571.0,353.5 572.8,360.0 C574.6,366.5 577.2,372.9 581.7,378.0 C586.2,383.1 592.1,387.6 599.5,390.4 C606.9,393.2 617.3,394.5 626.2,395.0 C635.1,395.5 644.0,394.3 652.9,393.5 C661.8,392.7 670.9,391.2 679.6,390.0 C688.3,388.8 697.9,387.0 705.0,386.0 C712.1,385.0 718.2,386.3 722.0,384.0 C725.8,381.7 729.7,374.7 728.0,372.0 C726.3,369.3 718.3,369.2 711.7,368.0 C705.1,366.8 696.8,365.3 688.5,365.0 C680.2,364.7 671.3,364.7 661.8,366.0 C652.3,367.3 639.6,371.8 631.6,372.6 C623.6,373.4 618.5,374.3 613.7,371.0 C608.9,367.7 604.5,358.7 603.0,353.0 C601.5,347.3 602.4,340.2 604.8,337.0 C607.2,333.8 613.1,333.7 617.3,334.0 C621.5,334.3 625.2,339.5 629.8,338.8 C634.4,338.1 643.3,336.8 645.0,330.0 C646.7,323.2 645.2,303.3 640.0,298.0Z" fill="#f2aea8" stroke="#cf8884" stroke-width="1" />
<path d="M600.0,310.0 C596.5,310.0 588.3,317.0 585.0,322.0 C581.7,327.0 580.5,333.7 580.0,340.0 C579.5,346.3 580.0,353.8 582.0,360.0 C584.0,366.2 587.3,372.8 592.0,377.0 C596.7,381.2 602.0,383.2 610.0,385.0 C618.0,386.8 628.3,388.3 640.0,388.0 C651.7,387.7 669.2,384.3 680.0,383.0 C690.8,381.7 703.3,381.5 705.0,380.0 C706.7,378.5 697.5,375.3 690.0,374.0 C682.5,372.7 670.0,371.2 660.0,372.0 C650.0,372.8 638.7,378.7 630.0,379.0 C621.3,379.3 613.5,378.0 608.0,374.0 C602.5,370.0 599.0,361.3 597.0,355.0 C595.0,348.7 594.5,341.5 596.0,336.0 C597.5,330.5 605.3,326.3 606.0,322.0 C606.7,317.7 603.5,310.0 600.0,310.0Z" fill="#f6c6c1" stroke="none" stroke-width="1" />
<path d="M604.8,337.0 C607.2,334.6 613.8,336.5 617.3,338.8 C620.8,341.1 625.2,346.5 626.0,351.0 C626.8,355.5 624.0,363.0 622.0,366.0 C620.0,369.0 616.9,371.2 613.7,369.0 C610.5,366.8 604.5,358.3 603.0,353.0 C601.5,347.7 602.4,339.4 604.8,337.0Z" fill="#ffffff" stroke="#cf8884" stroke-width="0.8" />
<defs><linearGradient id="pg" x1="0" x2="1" y1="0" y2="0"><stop offset="0" stop-color="#f8cc62"/><stop offset="0.6" stop-color="#f6b24a"/><stop offset="1" stop-color="#f08a2c"/></linearGradient></defs>
<path d="M630.0,362.0 C631.1,357.7 633.8,350.7 638.0,349.0 C642.2,347.3 648.2,351.2 655.0,352.0 C661.8,352.8 669.7,353.7 679.0,354.0 C688.3,354.3 701.8,355.2 711.0,354.0 C720.2,352.8 728.8,349.7 734.5,347.0 C740.2,344.3 742.1,338.8 745.0,338.0 C747.9,337.2 752.5,338.7 752.0,342.0 C751.5,345.3 745.5,354.3 742.0,358.0 C738.5,361.7 736.2,362.4 731.0,364.0 C725.8,365.6 719.2,366.7 711.0,367.5 C702.8,368.3 690.5,368.6 682.0,369.0 C673.5,369.4 666.8,369.2 660.0,370.0 C653.2,370.8 645.7,373.0 641.0,373.8 C636.3,374.6 633.4,376.6 631.6,374.6 C629.8,372.6 628.9,366.3 630.0,362.0Z" fill="url(#pg)" stroke="#e0952e" stroke-width="0.8" />
<path d="M700.0,212.0 C702.0,210.7 707.0,209.0 710.0,207.0 C713.0,205.0 715.0,202.5 718.0,200.0 C721.0,197.5 724.0,194.0 728.0,192.0 C732.0,190.0 737.3,188.8 742.0,188.0 C746.7,187.2 751.0,186.8 756.0,187.4 C761.0,188.0 766.5,188.4 772.0,191.5 C777.5,194.6 784.5,199.9 789.2,206.0 C794.0,212.1 798.1,220.2 800.5,228.0 C802.9,235.8 803.6,243.6 803.7,252.5 C803.8,261.4 802.9,273.4 801.3,281.5 C799.7,289.6 797.6,294.9 794.0,301.0 C790.4,307.1 785.5,312.5 779.5,318.0 C773.5,323.5 764.1,329.1 758.0,334.0 C751.9,338.9 749.1,344.3 742.6,347.5 C736.1,350.7 727.3,351.9 718.9,353.0 C710.5,354.1 701.0,354.3 692.0,354.0 C683.0,353.7 672.8,352.1 665.0,351.0 C657.2,349.9 650.5,349.7 645.0,347.5 C639.5,345.3 635.2,342.9 632.0,338.0 C628.8,333.1 626.0,325.0 626.0,318.0 C626.0,311.0 628.3,301.0 632.0,296.0 C635.7,291.0 642.3,290.1 648.0,288.0 C653.7,285.9 659.0,285.8 666.0,283.5 C673.0,281.2 683.5,278.1 690.0,274.0 C696.5,269.9 701.8,264.7 705.0,259.0 C708.2,253.3 710.2,247.3 709.0,240.0 C707.8,232.7 699.5,219.7 698.0,215.0 C696.5,210.3 698.0,213.3 700.0,212.0Z" fill="#f1a39d" stroke="#d07a76" stroke-width="1" />
<path d="M733.6,207.0 C739.6,205.8 753.5,205.5 760.0,209.0 C766.5,212.5 769.8,219.5 772.3,228.0 C774.8,236.5 775.5,250.3 774.7,260.0 C773.9,269.7 772.2,276.8 767.4,286.0 C762.6,295.2 754.2,308.2 745.7,315.0 C737.2,321.8 728.0,324.5 716.7,327.0 C705.4,329.5 689.7,330.7 678.0,330.0 C666.3,329.3 653.9,326.6 646.6,322.6 C639.4,318.6 635.3,310.8 634.5,306.0 C633.7,301.2 637.6,297.1 642.0,294.0 C646.4,290.9 652.6,290.2 661.0,287.5 C669.4,284.8 684.8,282.2 692.5,278.0 C700.2,273.8 703.0,269.0 707.0,262.0 C711.0,255.0 713.9,243.7 716.7,236.0 C719.5,228.3 721.2,220.8 724.0,216.0 C726.8,211.2 727.6,208.2 733.6,207.0Z" fill="#f7c4bf" stroke="none" stroke-width="1" />
<path d="M540.0,432.0 C543.3,426.8 550.0,425.0 560.0,424.0 C570.0,423.0 585.0,425.3 600.0,426.0 C615.0,426.7 633.3,428.2 650.0,428.0 C666.7,427.8 685.0,428.0 700.0,425.0 C715.0,422.0 729.2,414.5 740.0,410.0 C750.8,405.5 757.5,398.8 765.0,398.0 C772.5,397.2 781.8,399.7 785.0,405.0 C788.2,410.3 784.3,419.2 784.0,430.0 C783.7,440.8 782.4,454.2 783.0,470.0 C783.6,485.8 787.6,509.8 787.5,524.7 C787.4,539.6 785.8,551.4 782.5,559.3 C779.2,567.2 772.8,566.9 768.0,572.0 C763.2,577.1 759.3,584.2 754.0,590.0 C748.7,595.8 743.3,603.5 736.0,607.0 C728.7,610.5 717.3,610.8 710.0,611.0 C702.7,611.2 696.3,609.3 692.0,608.0 C687.7,606.7 685.8,600.4 684.0,603.0 C682.2,605.6 684.6,616.5 681.2,623.6 C677.9,630.8 671.7,641.8 663.9,645.9 C656.1,650.0 643.3,652.1 634.2,648.4 C625.1,644.7 614.9,630.0 609.5,623.6 C604.1,617.2 604.4,612.8 602.0,610.0 C599.6,607.2 597.1,612.5 594.9,606.9 C592.7,601.3 588.8,587.8 588.8,576.3 C588.8,564.8 596.4,546.9 594.9,538.2 C593.4,529.5 585.8,527.4 580.0,524.0 C574.2,520.6 565.8,520.7 560.0,518.0 C554.2,515.3 548.7,514.3 545.0,508.0 C541.3,501.7 538.4,488.8 537.6,480.0 C536.8,471.2 539.6,463.0 540.0,455.0 C540.4,447.0 536.7,437.2 540.0,432.0Z" fill="#b6303e" stroke="#7f1b26" stroke-width="1.3" />
<path d="M562.0,468.0 C559.7,469.0 551.2,470.8 548.0,474.0 C544.8,477.2 542.3,482.7 543.0,487.0 C543.7,491.3 550.5,497.8 552.0,500.0" fill="none" stroke="#931f2d" stroke-width="25.8" stroke-linecap="round" stroke-linejoin="round"/><path d="M562.0,468.0 C559.7,469.0 551.2,470.8 548.0,474.0 C544.8,477.2 542.3,482.7 543.0,487.0 C543.7,491.3 550.5,497.8 552.0,500.0" fill="none" stroke="#c33744" stroke-width="24" stroke-linecap="round" stroke-linejoin="round"/><path d="M562.0,468.0 C559.7,469.0 551.2,470.8 548.0,474.0 C544.8,477.2 542.3,482.7 543.0,487.0 C543.7,491.3 550.5,497.8 552.0,500.0" fill="none" stroke="#d8606a" stroke-width="8.0" stroke-linecap="round" stroke-linejoin="round"/>
<path d="M560.0,442.0 C558.0,443.3 550.3,446.7 548.0,450.0 C545.7,453.3 546.3,460.0 546.0,462.0" fill="none" stroke="#931f2d" stroke-width="23.8" stroke-linecap="round" stroke-linejoin="round"/><path d="M560.0,442.0 C558.0,443.3 550.3,446.7 548.0,450.0 C545.7,453.3 546.3,460.0 546.0,462.0" fill="none" stroke="#c33744" stroke-width="22" stroke-linecap="round" stroke-linejoin="round"/><path d="M560.0,442.0 C558.0,443.3 550.3,446.7 548.0,450.0 C545.7,453.3 546.3,460.0 546.0,462.0" fill="none" stroke="#d8606a" stroke-width="6.0" stroke-linecap="round" stroke-linejoin="round"/>
<path d="M763.0,426.0 C763.0,428.0 763.0,434.0 763.0,438.0 C763.0,442.0 763.0,448.0 763.0,450.0" fill="none" stroke="#931f2d" stroke-width="33.8" stroke-linecap="round" stroke-linejoin="round"/><path d="M763.0,426.0 C763.0,428.0 763.0,434.0 763.0,438.0 C763.0,442.0 763.0,448.0 763.0,450.0" fill="none" stroke="#c33744" stroke-width="32" stroke-linecap="round" stroke-linejoin="round"/><path d="M765.6,426.0 C765.6,428.0 765.6,434.0 765.6,438.0 C765.6,442.0 765.6,448.0 765.6,450.0" fill="none" stroke="#d8606a" stroke-width="16.0" stroke-linecap="round" stroke-linejoin="round"/><path d="M772.3,426.0 C772.3,428.0 772.3,434.0 772.3,438.0 C772.3,442.0 772.3,448.0 772.3,450.0" fill="none" stroke="#f0a5a8" stroke-width="1.4" stroke-linecap="round"/>
<path d="M770.0,460.0 C770.0,461.7 770.0,466.7 770.0,470.0 C770.0,473.3 770.0,478.3 770.0,480.0" fill="none" stroke="#931f2d" stroke-width="33.8" stroke-linecap="round" stroke-linejoin="round"/><path d="M770.0,460.0 C770.0,461.7 770.0,466.7 770.0,470.0 C770.0,473.3 770.0,478.3 770.0,480.0" fill="none" stroke="#c33744" stroke-width="32" stroke-linecap="round" stroke-linejoin="round"/><path d="M772.6,460.0 C772.6,461.7 772.6,466.7 772.6,470.0 C772.6,473.3 772.6,478.3 772.6,480.0" fill="none" stroke="#d8606a" stroke-width="16.0" stroke-linecap="round" stroke-linejoin="round"/><path d="M779.3,460.0 C779.3,461.7 779.3,466.7 779.3,470.0 C779.3,473.3 779.3,478.3 779.3,480.0" fill="none" stroke="#f0a5a8" stroke-width="1.4" stroke-linecap="round"/>
<path d="M742.0,533.0 C744.5,532.5 752.2,531.0 757.0,530.0 C761.8,529.0 768.7,527.5 771.0,527.0" fill="none" stroke="#931f2d" stroke-width="32.8" stroke-linecap="round" stroke-linejoin="round"/><path d="M742.0,533.0 C744.5,532.5 752.2,531.0 757.0,530.0 C761.8,529.0 768.7,527.5 771.0,527.0" fill="none" stroke="#c33744" stroke-width="31" stroke-linecap="round" stroke-linejoin="round"/><path d="M742.5,535.4 C745.0,534.9 752.7,533.4 757.5,532.4 C762.3,531.4 769.2,529.9 771.5,529.4" fill="none" stroke="#d8606a" stroke-width="15.0" stroke-linecap="round" stroke-linejoin="round"/><path d="M743.7,541.6 C746.2,541.1 753.9,539.6 758.8,538.6 C763.6,537.6 770.5,536.0 772.8,535.5" fill="none" stroke="#f0a5a8" stroke-width="1.4" stroke-linecap="round"/>
<path d="M729.0,584.0 C730.3,584.0 734.3,584.2 737.0,584.0 C739.7,583.8 743.7,583.2 745.0,583.0" fill="none" stroke="#931f2d" stroke-width="32.8" stroke-linecap="round" stroke-linejoin="round"/><path d="M729.0,584.0 C730.3,584.0 734.3,584.2 737.0,584.0 C739.7,583.8 743.7,583.2 745.0,583.0" fill="none" stroke="#c33744" stroke-width="31" stroke-linecap="round" stroke-linejoin="round"/><path d="M729.0,586.5 C730.4,586.5 734.4,586.6 737.2,586.5 C739.9,586.3 743.9,585.6 745.3,585.5" fill="none" stroke="#d8606a" stroke-width="15.0" stroke-linecap="round" stroke-linejoin="round"/><path d="M729.0,592.7 C730.4,592.7 734.7,592.9 737.5,592.7 C740.4,592.5 744.7,591.8 746.1,591.7" fill="none" stroke="#f0a5a8" stroke-width="1.4" stroke-linecap="round"/>
<path d="M719.0,563.0 C720.5,563.2 724.8,563.5 728.0,564.0 C731.2,564.5 736.3,565.7 738.0,566.0" fill="none" stroke="#931f2d" stroke-width="34.8" stroke-linecap="round" stroke-linejoin="round"/><path d="M719.0,563.0 C720.5,563.2 724.8,563.5 728.0,564.0 C731.2,564.5 736.3,565.7 738.0,566.0" fill="none" stroke="#c33744" stroke-width="33" stroke-linecap="round" stroke-linejoin="round"/><path d="M718.7,565.6 C720.2,565.8 724.5,566.1 727.6,566.6 C730.7,567.1 735.8,568.3 737.5,568.6" fill="none" stroke="#d8606a" stroke-width="17.0" stroke-linecap="round" stroke-linejoin="round"/><path d="M717.9,572.8 C719.3,572.9 723.4,573.2 726.5,573.7 C729.5,574.2 734.5,575.3 736.1,575.6" fill="none" stroke="#f0a5a8" stroke-width="1.4" stroke-linecap="round"/>
<path d="M662.0,477.0 C663.7,477.0 668.5,476.8 672.0,477.0 C675.5,477.2 681.2,477.8 683.0,478.0" fill="none" stroke="#931f2d" stroke-width="30.8" stroke-linecap="round" stroke-linejoin="round"/><path d="M662.0,477.0 C663.7,477.0 668.5,476.8 672.0,477.0 C675.5,477.2 681.2,477.8 683.0,478.0" fill="none" stroke="#c33744" stroke-width="29" stroke-linecap="round" stroke-linejoin="round"/><path d="M662.0,474.7 C663.7,474.7 668.6,474.5 672.1,474.7 C675.6,474.9 681.4,475.5 683.2,475.7" fill="none" stroke="#d8606a" stroke-width="13.0" stroke-linecap="round" stroke-linejoin="round"/><path d="M662.0,469.3 C663.7,469.3 668.7,469.2 672.4,469.3 C676.0,469.5 681.8,470.2 683.7,470.4" fill="none" stroke="#f0a5a8" stroke-width="1.4" stroke-linecap="round"/>
<path d="M699.0,465.0 C702.5,464.3 713.5,462.2 720.0,461.0 C726.5,459.8 735.0,458.5 738.0,458.0" fill="none" stroke="#931f2d" stroke-width="36.8" stroke-linecap="round" stroke-linejoin="round"/><path d="M699.0,465.0 C702.5,464.3 713.5,462.2 720.0,461.0 C726.5,459.8 735.0,458.5 738.0,458.0" fill="none" stroke="#c33744" stroke-width="35" stroke-linecap="round" stroke-linejoin="round"/><path d="M699.5,467.8 C703.0,467.1 714.0,464.9 720.5,463.8 C727.0,462.6 735.5,461.3 738.5,460.8" fill="none" stroke="#d8606a" stroke-width="19.0" stroke-linecap="round" stroke-linejoin="round"/><path d="M701.0,475.7 C704.5,475.0 715.5,472.9 721.9,471.7 C728.4,470.6 736.8,469.2 739.8,468.8" fill="none" stroke="#f0a5a8" stroke-width="1.4" stroke-linecap="round"/>
<path d="M702.0,488.0 C705.0,487.8 714.0,487.3 720.0,487.0 C726.0,486.7 735.0,486.2 738.0,486.0" fill="none" stroke="#931f2d" stroke-width="28.8" stroke-linecap="round" stroke-linejoin="round"/><path d="M702.0,488.0 C705.0,487.8 714.0,487.3 720.0,487.0 C726.0,486.7 735.0,486.2 738.0,486.0" fill="none" stroke="#c33744" stroke-width="27" stroke-linecap="round" stroke-linejoin="round"/><path d="M702.1,490.2 C705.1,490.0 714.1,489.5 720.1,489.2 C726.1,488.8 735.1,488.3 738.1,488.2" fill="none" stroke="#d8606a" stroke-width="11.0" stroke-linecap="round" stroke-linejoin="round"/><path d="M702.4,494.6 C705.4,494.4 714.4,493.9 720.4,493.6 C726.4,493.2 735.4,492.7 738.4,492.6" fill="none" stroke="#f0a5a8" stroke-width="1.4" stroke-linecap="round"/>
<path d="M695.0,505.0 C698.5,504.7 708.8,503.7 716.0,503.0 C723.2,502.3 734.3,501.3 738.0,501.0" fill="none" stroke="#931f2d" stroke-width="32.8" stroke-linecap="round" stroke-linejoin="round"/><path d="M695.0,505.0 C698.5,504.7 708.8,503.7 716.0,503.0 C723.2,502.3 734.3,501.3 738.0,501.0" fill="none" stroke="#c33744" stroke-width="31" stroke-linecap="round" stroke-linejoin="round"/><path d="M695.2,507.5 C698.7,507.1 709.1,506.1 716.2,505.5 C723.4,504.8 734.6,503.8 738.2,503.5" fill="none" stroke="#d8606a" stroke-width="15.0" stroke-linecap="round" stroke-linejoin="round"/><path d="M695.8,513.7 C699.3,513.4 709.6,512.4 716.8,511.7 C724.0,511.0 735.1,510.0 738.8,509.7" fill="none" stroke="#f0a5a8" stroke-width="1.4" stroke-linecap="round"/>
<path d="M669.0,527.0 C673.2,527.0 685.8,527.0 694.0,527.0 C702.2,527.0 714.0,527.0 718.0,527.0" fill="none" stroke="#931f2d" stroke-width="32.8" stroke-linecap="round" stroke-linejoin="round"/><path d="M669.0,527.0 C673.2,527.0 685.8,527.0 694.0,527.0 C702.2,527.0 714.0,527.0 718.0,527.0" fill="none" stroke="#c33744" stroke-width="31" stroke-linecap="round" stroke-linejoin="round"/><path d="M669.0,529.5 C673.2,529.5 685.8,529.5 694.0,529.5 C702.2,529.5 714.0,529.5 718.0,529.5" fill="none" stroke="#d8606a" stroke-width="15.0" stroke-linecap="round" stroke-linejoin="round"/><path d="M669.0,535.7 C673.2,535.7 685.8,535.7 694.0,535.7 C702.2,535.7 714.0,535.7 718.0,535.7" fill="none" stroke="#f0a5a8" stroke-width="1.4" stroke-linecap="round"/>
<path d="M656.0,542.0 C660.7,543.7 674.7,548.3 684.0,552.0 C693.3,555.7 707.3,562.0 712.0,564.0" fill="none" stroke="#931f2d" stroke-width="36.8" stroke-linecap="round" stroke-linejoin="round"/><path d="M656.0,542.0 C660.7,543.7 674.7,548.3 684.0,552.0 C693.3,555.7 707.3,562.0 712.0,564.0" fill="none" stroke="#c33744" stroke-width="35" stroke-linecap="round" stroke-linejoin="round"/><path d="M656.9,539.4 C661.6,541.0 675.7,545.7 685.0,549.4 C694.4,553.1 708.4,559.4 713.1,561.4" fill="none" stroke="#d8606a" stroke-width="19.0" stroke-linecap="round" stroke-linejoin="round"/><path d="M659.7,531.7 C664.4,533.4 678.5,538.1 688.0,541.9 C697.4,545.6 711.6,552.0 716.3,554.0" fill="none" stroke="#f0a5a8" stroke-width="1.4" stroke-linecap="round"/>
<path d="M563.0,447.0 C569.2,446.8 586.7,445.8 600.0,446.0 C613.3,446.2 635.8,447.7 643.0,448.0" fill="none" stroke="#931f2d" stroke-width="32.8" stroke-linecap="round" stroke-linejoin="round"/><path d="M563.0,447.0 C569.2,446.8 586.7,445.8 600.0,446.0 C613.3,446.2 635.8,447.7 643.0,448.0" fill="none" stroke="#c33744" stroke-width="31" stroke-linecap="round" stroke-linejoin="round"/><path d="M563.1,449.5 C569.2,449.3 586.7,448.3 600.0,448.5 C613.3,448.6 635.7,450.1 642.9,450.5" fill="none" stroke="#d8606a" stroke-width="15.0" stroke-linecap="round" stroke-linejoin="round"/><path d="M563.2,455.7 C569.3,455.6 586.7,454.6 599.9,454.7 C613.1,454.9 635.5,456.4 642.6,456.7" fill="none" stroke="#f0a5a8" stroke-width="1.4" stroke-linecap="round"/>
<path d="M557.0,472.0 C564.2,471.8 583.0,470.8 600.0,471.0 C617.0,471.2 649.2,472.7 659.0,473.0" fill="none" stroke="#931f2d" stroke-width="32.8" stroke-linecap="round" stroke-linejoin="round"/><path d="M557.0,472.0 C564.2,471.8 583.0,470.8 600.0,471.0 C617.0,471.2 649.2,472.7 659.0,473.0" fill="none" stroke="#c33744" stroke-width="31" stroke-linecap="round" stroke-linejoin="round"/><path d="M556.9,469.5 C564.1,469.4 583.0,468.4 600.0,468.5 C617.0,468.7 649.2,470.2 659.1,470.5" fill="none" stroke="#d8606a" stroke-width="15.0" stroke-linecap="round" stroke-linejoin="round"/><path d="M556.8,463.3 C564.0,463.1 583.0,462.1 600.1,462.3 C617.2,462.4 649.4,463.9 659.3,464.3" fill="none" stroke="#f0a5a8" stroke-width="1.4" stroke-linecap="round"/>
<path d="M556.0,505.0 C558.7,504.0 563.0,500.2 572.0,499.0 C581.0,497.8 597.0,497.7 610.0,498.0 C623.0,498.3 643.3,500.5 650.0,501.0" fill="none" stroke="#931f2d" stroke-width="35.8" stroke-linecap="round" stroke-linejoin="round"/><path d="M556.0,505.0 C558.7,504.0 563.0,500.2 572.0,499.0 C581.0,497.8 597.0,497.7 610.0,498.0 C623.0,498.3 643.3,500.5 650.0,501.0" fill="none" stroke="#c33744" stroke-width="34" stroke-linecap="round" stroke-linejoin="round"/><path d="M555.0,502.5 C557.8,501.4 562.5,497.5 571.7,496.3 C580.8,495.1 597.0,495.0 610.1,495.3 C623.2,495.6 643.5,497.8 650.2,498.3" fill="none" stroke="#d8606a" stroke-width="18.0" stroke-linecap="round" stroke-linejoin="round"/><path d="M552.4,495.3 C555.4,494.2 561.0,490.0 570.7,488.7 C580.3,487.4 596.9,487.3 610.3,487.6 C623.6,488.0 644.0,490.2 650.8,490.7" fill="none" stroke="#f0a5a8" stroke-width="1.4" stroke-linecap="round"/>
<path d="M571.0,524.0 C573.2,524.0 579.8,523.8 584.0,524.0 C588.2,524.2 594.0,524.8 596.0,525.0" fill="none" stroke="#931f2d" stroke-width="32.8" stroke-linecap="round" stroke-linejoin="round"/><path d="M571.0,524.0 C573.2,524.0 579.8,523.8 584.0,524.0 C588.2,524.2 594.0,524.8 596.0,525.0" fill="none" stroke="#c33744" stroke-width="31" stroke-linecap="round" stroke-linejoin="round"/><path d="M571.0,521.5 C573.2,521.5 579.9,521.4 584.1,521.5 C588.3,521.7 594.2,522.4 596.2,522.5" fill="none" stroke="#d8606a" stroke-width="15.0" stroke-linecap="round" stroke-linejoin="round"/><path d="M571.0,515.3 C573.2,515.3 580.1,515.1 584.3,515.3 C588.6,515.4 594.7,516.1 596.7,516.3" fill="none" stroke="#f0a5a8" stroke-width="1.4" stroke-linecap="round"/>
<path d="M620.0,595.0 C622.0,595.2 627.8,595.7 632.0,596.0 C636.2,596.3 642.8,596.8 645.0,597.0" fill="none" stroke="#931f2d" stroke-width="34.8" stroke-linecap="round" stroke-linejoin="round"/><path d="M620.0,595.0 C622.0,595.2 627.8,595.7 632.0,596.0 C636.2,596.3 642.8,596.8 645.0,597.0" fill="none" stroke="#c33744" stroke-width="33" stroke-linecap="round" stroke-linejoin="round"/><path d="M620.2,592.4 C622.2,592.5 628.0,593.0 632.2,593.4 C636.4,593.7 643.0,594.2 645.2,594.4" fill="none" stroke="#d8606a" stroke-width="17.0" stroke-linecap="round" stroke-linejoin="round"/><path d="M620.8,585.2 C622.8,585.4 628.6,585.9 632.8,586.2 C636.9,586.5 643.6,587.0 645.8,587.2" fill="none" stroke="#f0a5a8" stroke-width="1.4" stroke-linecap="round"/>
<path d="M604.0,534.0 C605.3,538.3 609.5,551.0 612.0,560.0 C614.5,569.0 617.8,583.3 619.0,588.0" fill="none" stroke="#931f2d" stroke-width="39.8" stroke-linecap="round" stroke-linejoin="round"/><path d="M604.0,534.0 C605.3,538.3 609.5,551.0 612.0,560.0 C614.5,569.0 617.8,583.3 619.0,588.0" fill="none" stroke="#c33744" stroke-width="38" stroke-linecap="round" stroke-linejoin="round"/><path d="M606.9,533.1 C608.2,537.5 612.4,550.2 614.9,559.2 C617.4,568.2 620.8,582.6 621.9,587.3" fill="none" stroke="#d8606a" stroke-width="22.0" stroke-linecap="round" stroke-linejoin="round"/><path d="M616.0,530.3 C617.3,534.7 621.5,547.5 624.1,556.6 C626.6,565.8 630.0,580.2 631.1,585.0" fill="none" stroke="#f0a5a8" stroke-width="1.4" stroke-linecap="round"/>
<path d="M617.0,626.0 C620.8,626.3 632.3,628.3 640.0,628.0 C647.7,627.7 659.2,624.7 663.0,624.0" fill="none" stroke="#931f2d" stroke-width="39.8" stroke-linecap="round" stroke-linejoin="round"/><path d="M617.0,626.0 C620.8,626.3 632.3,628.3 640.0,628.0 C647.7,627.7 659.2,624.7 663.0,624.0" fill="none" stroke="#c33744" stroke-width="38" stroke-linecap="round" stroke-linejoin="round"/><path d="M616.7,629.0 C620.6,629.4 632.3,631.4 640.1,631.0 C647.9,630.7 659.6,627.7 663.5,627.0" fill="none" stroke="#d8606a" stroke-width="22.0" stroke-linecap="round" stroke-linejoin="round"/><path d="M615.9,638.5 C620.0,638.8 632.3,640.9 640.5,640.5 C648.7,640.2 661.0,637.0 665.1,636.3" fill="none" stroke="#f0a5a8" stroke-width="1.4" stroke-linecap="round"/>
<ellipse cx="534" cy="415" rx="9" ry="10" transform="rotate(0 534 415)" fill="#ef9c9b" stroke="#cd6870" stroke-width="1.1"/><ellipse cx="532.9" cy="413.2" rx="4.5" ry="3.8" transform="rotate(0 534 415)" fill="#f5b6b3"/>
<ellipse cx="533" cy="433" rx="9" ry="10" transform="rotate(0 533 433)" fill="#ef9c9b" stroke="#cd6870" stroke-width="1.1"/><ellipse cx="531.9" cy="431.2" rx="4.5" ry="3.8" transform="rotate(0 533 433)" fill="#f5b6b3"/>
<ellipse cx="533" cy="451" rx="9" ry="10" transform="rotate(0 533 451)" fill="#ef9c9b" stroke="#cd6870" stroke-width="1.1"/><ellipse cx="531.9" cy="449.2" rx="4.5" ry="3.8" transform="rotate(0 533 451)" fill="#f5b6b3"/>
<ellipse cx="533" cy="470" rx="9" ry="10" transform="rotate(0 533 470)" fill="#ef9c9b" stroke="#cd6870" stroke-width="1.1"/><ellipse cx="531.9" cy="468.2" rx="4.5" ry="3.8" transform="rotate(0 533 470)" fill="#f5b6b3"/>
<ellipse cx="534" cy="489" rx="9" ry="10" transform="rotate(0 534 489)" fill="#ef9c9b" stroke="#cd6870" stroke-width="1.1"/><ellipse cx="532.9" cy="487.2" rx="4.5" ry="3.8" transform="rotate(0 534 489)" fill="#f5b6b3"/>
<ellipse cx="538" cy="508" rx="10" ry="11" transform="rotate(0 538 508)" fill="#ef9c9b" stroke="#cd6870" stroke-width="1.1"/><ellipse cx="536.8" cy="506.0" rx="5.0" ry="4.2" transform="rotate(0 538 508)" fill="#f5b6b3"/>
<ellipse cx="547" cy="526" rx="12" ry="11" transform="rotate(0 547 526)" fill="#ef9c9b" stroke="#cd6870" stroke-width="1.1"/><ellipse cx="545.6" cy="524.0" rx="6.0" ry="4.2" transform="rotate(0 547 526)" fill="#f5b6b3"/>
<ellipse cx="559" cy="541" rx="12" ry="11" transform="rotate(0 559 541)" fill="#ef9c9b" stroke="#cd6870" stroke-width="1.1"/><ellipse cx="557.6" cy="539.0" rx="6.0" ry="4.2" transform="rotate(0 559 541)" fill="#f5b6b3"/>
<ellipse cx="571" cy="555" rx="12" ry="11" transform="rotate(0 571 555)" fill="#ef9c9b" stroke="#cd6870" stroke-width="1.1"/><ellipse cx="569.6" cy="553.0" rx="6.0" ry="4.2" transform="rotate(0 571 555)" fill="#f5b6b3"/>
<ellipse cx="583" cy="567" rx="10" ry="10" transform="rotate(0 583 567)" fill="#ef9c9b" stroke="#cd6870" stroke-width="1.1"/><ellipse cx="581.8" cy="565.2" rx="5.0" ry="3.8" transform="rotate(0 583 567)" fill="#f5b6b3"/>
<ellipse cx="520" cy="398" rx="16" ry="12" transform="rotate(0 520 398)" fill="#ef9c9b" stroke="#cd6870" stroke-width="1.1"/><ellipse cx="518.1" cy="395.8" rx="8.0" ry="4.6" transform="rotate(0 520 398)" fill="#f5b6b3"/>
<ellipse cx="513" cy="421" rx="16" ry="11" transform="rotate(0 513 421)" fill="#ef9c9b" stroke="#cd6870" stroke-width="1.1"/><ellipse cx="511.1" cy="419.0" rx="8.0" ry="4.2" transform="rotate(0 513 421)" fill="#f5b6b3"/>
<ellipse cx="509" cy="441" rx="16" ry="11" transform="rotate(0 509 441)" fill="#ef9c9b" stroke="#cd6870" stroke-width="1.1"/><ellipse cx="507.1" cy="439.0" rx="8.0" ry="4.2" transform="rotate(0 509 441)" fill="#f5b6b3"/>
<ellipse cx="507" cy="460" rx="16" ry="11.5" transform="rotate(0 507 460)" fill="#ef9c9b" stroke="#cd6870" stroke-width="1.1"/><ellipse cx="505.1" cy="457.9" rx="8.0" ry="4.4" transform="rotate(0 507 460)" fill="#f5b6b3"/>
<ellipse cx="506" cy="481" rx="16" ry="12.5" transform="rotate(0 506 481)" fill="#ef9c9b" stroke="#cd6870" stroke-width="1.1"/><ellipse cx="504.1" cy="478.8" rx="8.0" ry="4.8" transform="rotate(0 506 481)" fill="#f5b6b3"/>
<ellipse cx="506" cy="503" rx="16" ry="12.5" transform="rotate(0 506 503)" fill="#ef9c9b" stroke="#cd6870" stroke-width="1.1"/><ellipse cx="504.1" cy="500.8" rx="8.0" ry="4.8" transform="rotate(0 506 503)" fill="#f5b6b3"/>
<ellipse cx="508" cy="527" rx="17" ry="14" transform="rotate(0 508 527)" fill="#ef9c9b" stroke="#cd6870" stroke-width="1.1"/><ellipse cx="506.0" cy="524.5" rx="8.5" ry="5.3" transform="rotate(0 508 527)" fill="#f5b6b3"/>
<ellipse cx="513" cy="553" rx="18" ry="13.5" transform="rotate(0 513 553)" fill="#ef9c9b" stroke="#cd6870" stroke-width="1.1"/><ellipse cx="510.8" cy="550.6" rx="9.0" ry="5.1" transform="rotate(0 513 553)" fill="#f5b6b3"/>
<ellipse cx="522" cy="575" rx="18" ry="12" transform="rotate(0 522 575)" fill="#ef9c9b" stroke="#cd6870" stroke-width="1.1"/><ellipse cx="519.8" cy="572.8" rx="9.0" ry="4.6" transform="rotate(0 522 575)" fill="#f5b6b3"/>
<ellipse cx="549" cy="583" rx="20" ry="12" transform="rotate(0 549 583)" fill="#ef9c9b" stroke="#cd6870" stroke-width="1.1"/><ellipse cx="546.6" cy="580.8" rx="10.0" ry="4.6" transform="rotate(0 549 583)" fill="#f5b6b3"/>
<ellipse cx="575" cy="594" rx="16" ry="11" transform="rotate(0 575 594)" fill="#ef9c9b" stroke="#cd6870" stroke-width="1.1"/><ellipse cx="573.1" cy="592.0" rx="8.0" ry="4.2" transform="rotate(0 575 594)" fill="#f5b6b3"/>
<ellipse cx="545" cy="390" rx="14" ry="10" transform="rotate(0 545 390)" fill="#ef9c9b" stroke="#cd6870" stroke-width="1.1"/><ellipse cx="543.3" cy="388.2" rx="7.0" ry="3.8" transform="rotate(0 545 390)" fill="#f5b6b3"/>
<ellipse cx="572" cy="394" rx="14" ry="10" transform="rotate(0 572 394)" fill="#ef9c9b" stroke="#cd6870" stroke-width="1.1"/><ellipse cx="570.3" cy="392.2" rx="7.0" ry="3.8" transform="rotate(0 572 394)" fill="#f5b6b3"/>
<ellipse cx="600" cy="401" rx="14" ry="10" transform="rotate(0 600 401)" fill="#ef9c9b" stroke="#cd6870" stroke-width="1.1"/><ellipse cx="598.3" cy="399.2" rx="7.0" ry="3.8" transform="rotate(0 600 401)" fill="#f5b6b3"/>
<ellipse cx="624" cy="406" rx="13" ry="10" transform="rotate(0 624 406)" fill="#ef9c9b" stroke="#cd6870" stroke-width="1.1"/><ellipse cx="622.4" cy="404.2" rx="6.5" ry="3.8" transform="rotate(0 624 406)" fill="#f5b6b3"/>
<ellipse cx="658" cy="406" rx="20" ry="10" transform="rotate(0 658 406)" fill="#ef9c9b" stroke="#cd6870" stroke-width="1.1"/><ellipse cx="655.6" cy="404.2" rx="10.0" ry="3.8" transform="rotate(0 658 406)" fill="#f5b6b3"/>
<ellipse cx="686" cy="404" rx="13" ry="10" transform="rotate(0 686 404)" fill="#ef9c9b" stroke="#cd6870" stroke-width="1.1"/><ellipse cx="684.4" cy="402.2" rx="6.5" ry="3.8" transform="rotate(0 686 404)" fill="#f5b6b3"/>
<ellipse cx="711" cy="396" rx="15" ry="12" transform="rotate(0 711 396)" fill="#ef9c9b" stroke="#cd6870" stroke-width="1.1"/><ellipse cx="709.2" cy="393.8" rx="7.5" ry="4.6" transform="rotate(0 711 396)" fill="#f5b6b3"/>
<ellipse cx="731" cy="384" rx="13" ry="15" transform="rotate(0 731 384)" fill="#ef9c9b" stroke="#cd6870" stroke-width="1.1"/><ellipse cx="729.4" cy="381.3" rx="6.5" ry="5.7" transform="rotate(0 731 384)" fill="#f5b6b3"/>
<ellipse cx="560" cy="424" rx="17" ry="13" transform="rotate(0 560 424)" fill="#ef9c9b" stroke="#cd6870" stroke-width="1.1"/><ellipse cx="558.0" cy="421.7" rx="8.5" ry="4.9" transform="rotate(0 560 424)" fill="#f5b6b3"/>
<ellipse cx="590" cy="427" rx="15" ry="13" transform="rotate(0 590 427)" fill="#ef9c9b" stroke="#cd6870" stroke-width="1.1"/><ellipse cx="588.2" cy="424.7" rx="7.5" ry="4.9" transform="rotate(0 590 427)" fill="#f5b6b3"/>
<ellipse cx="620" cy="428" rx="17" ry="13" transform="rotate(0 620 428)" fill="#ef9c9b" stroke="#cd6870" stroke-width="1.1"/><ellipse cx="618.0" cy="425.7" rx="8.5" ry="4.9" transform="rotate(0 620 428)" fill="#f5b6b3"/>
<ellipse cx="656" cy="430" rx="23" ry="14" transform="rotate(0 656 430)" fill="#ef9c9b" stroke="#cd6870" stroke-width="1.1"/><ellipse cx="653.2" cy="427.5" rx="11.5" ry="5.3" transform="rotate(0 656 430)" fill="#f5b6b3"/>
<ellipse cx="693" cy="428" rx="14" ry="14" transform="rotate(0 693 428)" fill="#ef9c9b" stroke="#cd6870" stroke-width="1.1"/><ellipse cx="691.3" cy="425.5" rx="7.0" ry="5.3" transform="rotate(0 693 428)" fill="#f5b6b3"/>
<ellipse cx="722" cy="418" rx="16" ry="16" transform="rotate(0 722 418)" fill="#ef9c9b" stroke="#cd6870" stroke-width="1.1"/><ellipse cx="720.1" cy="415.1" rx="8.0" ry="6.1" transform="rotate(0 722 418)" fill="#f5b6b3"/>
<ellipse cx="767" cy="333" rx="14" ry="12" transform="rotate(0 767 333)" fill="#ef9c9b" stroke="#cd6870" stroke-width="1.1"/><ellipse cx="765.3" cy="330.8" rx="7.0" ry="4.6" transform="rotate(0 767 333)" fill="#f5b6b3"/>
<ellipse cx="757" cy="351" rx="14" ry="12" transform="rotate(0 757 351)" fill="#ef9c9b" stroke="#cd6870" stroke-width="1.1"/><ellipse cx="755.3" cy="348.8" rx="7.0" ry="4.6" transform="rotate(0 757 351)" fill="#f5b6b3"/>
<ellipse cx="744" cy="367" rx="12" ry="13" transform="rotate(0 744 367)" fill="#ef9c9b" stroke="#cd6870" stroke-width="1.1"/><ellipse cx="742.6" cy="364.7" rx="6.0" ry="4.9" transform="rotate(0 744 367)" fill="#f5b6b3"/>
<ellipse cx="731" cy="378" rx="12" ry="11" transform="rotate(0 731 378)" fill="#ef9c9b" stroke="#cd6870" stroke-width="1.1"/><ellipse cx="729.6" cy="376.0" rx="6.0" ry="4.2" transform="rotate(0 731 378)" fill="#f5b6b3"/>
<ellipse cx="786" cy="357" rx="14" ry="15" transform="rotate(0 786 357)" fill="#ef9c9b" stroke="#cd6870" stroke-width="1.1"/><ellipse cx="784.3" cy="354.3" rx="7.0" ry="5.7" transform="rotate(0 786 357)" fill="#f5b6b3"/>
<ellipse cx="770" cy="378" rx="13" ry="13" transform="rotate(0 770 378)" fill="#ef9c9b" stroke="#cd6870" stroke-width="1.1"/><ellipse cx="768.4" cy="375.7" rx="6.5" ry="4.9" transform="rotate(0 770 378)" fill="#f5b6b3"/>
<ellipse cx="751" cy="396" rx="13" ry="15" transform="rotate(0 751 396)" fill="#ef9c9b" stroke="#cd6870" stroke-width="1.1"/><ellipse cx="749.4" cy="393.3" rx="6.5" ry="5.7" transform="rotate(0 751 396)" fill="#f5b6b3"/>
<ellipse cx="806" cy="369" rx="9" ry="11" transform="rotate(0 806 369)" fill="#ef9c9b" stroke="#cd6870" stroke-width="1.1"/><ellipse cx="804.9" cy="367.0" rx="4.5" ry="4.2" transform="rotate(0 806 369)" fill="#f5b6b3"/>
<ellipse cx="792" cy="388" rx="12" ry="11" transform="rotate(0 792 388)" fill="#ef9c9b" stroke="#cd6870" stroke-width="1.1"/><ellipse cx="790.6" cy="386.0" rx="6.0" ry="4.2" transform="rotate(0 792 388)" fill="#f5b6b3"/>
<ellipse cx="793" cy="405" rx="12" ry="11" transform="rotate(0 793 405)" fill="#ef9c9b" stroke="#cd6870" stroke-width="1.1"/><ellipse cx="791.6" cy="403.0" rx="6.0" ry="4.2" transform="rotate(0 793 405)" fill="#f5b6b3"/>
<ellipse cx="800" cy="342" rx="18" ry="17" transform="rotate(0 800 342)" fill="#ef9c9b" stroke="#cd6870" stroke-width="1.1"/><ellipse cx="797.8" cy="338.9" rx="9.0" ry="6.5" transform="rotate(0 800 342)" fill="#f5b6b3"/>
<ellipse cx="795" cy="424" rx="14.5" ry="15" transform="rotate(0 795 424)" fill="#ef9c9b" stroke="#cd6870" stroke-width="1.1"/><ellipse cx="793.3" cy="421.3" rx="7.2" ry="5.7" transform="rotate(0 795 424)" fill="#f5b6b3"/>
<ellipse cx="796" cy="452" rx="14.5" ry="15" transform="rotate(0 796 452)" fill="#ef9c9b" stroke="#cd6870" stroke-width="1.1"/><ellipse cx="794.3" cy="449.3" rx="7.2" ry="5.7" transform="rotate(0 796 452)" fill="#f5b6b3"/>
<ellipse cx="797" cy="481" rx="14.5" ry="15" transform="rotate(0 797 481)" fill="#ef9c9b" stroke="#cd6870" stroke-width="1.1"/><ellipse cx="795.3" cy="478.3" rx="7.2" ry="5.7" transform="rotate(0 797 481)" fill="#f5b6b3"/>
<ellipse cx="797" cy="510" rx="14.5" ry="15" transform="rotate(0 797 510)" fill="#ef9c9b" stroke="#cd6870" stroke-width="1.1"/><ellipse cx="795.3" cy="507.3" rx="7.2" ry="5.7" transform="rotate(0 797 510)" fill="#f5b6b3"/>
<ellipse cx="796" cy="539" rx="14.5" ry="15" transform="rotate(0 796 539)" fill="#ef9c9b" stroke="#cd6870" stroke-width="1.1"/><ellipse cx="794.3" cy="536.3" rx="7.2" ry="5.7" transform="rotate(0 796 539)" fill="#f5b6b3"/>
<ellipse cx="793" cy="567" rx="14.5" ry="15" transform="rotate(0 793 567)" fill="#ef9c9b" stroke="#cd6870" stroke-width="1.1"/><ellipse cx="791.3" cy="564.3" rx="7.2" ry="5.7" transform="rotate(0 793 567)" fill="#f5b6b3"/>
<ellipse cx="788" cy="592" rx="14.5" ry="15" transform="rotate(0 788 592)" fill="#ef9c9b" stroke="#cd6870" stroke-width="1.1"/><ellipse cx="786.3" cy="589.3" rx="7.2" ry="5.7" transform="rotate(0 788 592)" fill="#f5b6b3"/>
<ellipse cx="787" cy="590" rx="11" ry="16" transform="rotate(0 787 590)" fill="#ef9c9b" stroke="#cd6870" stroke-width="1.1"/><ellipse cx="785.7" cy="587.1" rx="5.5" ry="6.1" transform="rotate(0 787 590)" fill="#f5b6b3"/>
<ellipse cx="776" cy="621" rx="14" ry="17" transform="rotate(0 776 621)" fill="#ef9c9b" stroke="#cd6870" stroke-width="1.1"/><ellipse cx="774.3" cy="617.9" rx="7.0" ry="6.5" transform="rotate(0 776 621)" fill="#f5b6b3"/>
<ellipse cx="748" cy="638" rx="15" ry="19" transform="rotate(0 748 638)" fill="#ef9c9b" stroke="#cd6870" stroke-width="1.1"/><ellipse cx="746.2" cy="634.6" rx="7.5" ry="7.2" transform="rotate(0 748 638)" fill="#f5b6b3"/>
<ellipse cx="711" cy="642" rx="22" ry="16" transform="rotate(0 711 642)" fill="#ef9c9b" stroke="#cd6870" stroke-width="1.1"/><ellipse cx="708.4" cy="639.1" rx="11.0" ry="6.1" transform="rotate(0 711 642)" fill="#f5b6b3"/>
<path d="M583.0,579.0 C580.8,577.5 574.8,573.2 570.0,570.0 C565.2,566.8 558.8,564.2 554.0,560.0 C549.2,555.8 545.0,550.8 541.0,545.0 C537.0,539.2 532.5,532.5 530.0,525.0 C527.5,517.5 526.8,509.2 526.0,500.0 C525.2,490.8 525.0,480.0 525.0,470.0 C525.0,460.0 525.5,448.7 526.0,440.0 C526.5,431.3 526.7,424.3 528.0,418.0 C529.3,411.7 530.0,405.0 534.0,402.0 C538.0,399.0 544.3,398.8 552.0,400.0 C559.7,401.2 570.0,406.3 580.0,409.0 C590.0,411.7 600.3,414.2 612.0,416.0 C623.7,417.8 637.0,419.7 650.0,420.0 C663.0,420.3 679.0,419.7 690.0,418.0 C701.0,416.3 707.7,413.7 716.0,410.0 C724.3,406.3 731.8,402.3 740.0,396.0 C748.2,389.7 757.5,379.7 765.0,372.0 C772.5,364.3 779.5,356.0 785.0,350.0 C790.5,344.0 795.8,338.3 798.0,336.0" fill="none" stroke="#d97a80" stroke-width="5.6" stroke-linecap="round"/>
<path d="M583.0,579.0 C580.8,577.5 574.8,573.2 570.0,570.0 C565.2,566.8 558.8,564.2 554.0,560.0 C549.2,555.8 545.0,550.8 541.0,545.0 C537.0,539.2 532.5,532.5 530.0,525.0 C527.5,517.5 526.8,509.2 526.0,500.0 C525.2,490.8 525.0,480.0 525.0,470.0 C525.0,460.0 525.5,448.7 526.0,440.0 C526.5,431.3 526.7,424.3 528.0,418.0 C529.3,411.7 530.0,405.0 534.0,402.0 C538.0,399.0 544.3,398.8 552.0,400.0 C559.7,401.2 570.0,406.3 580.0,409.0 C590.0,411.7 600.3,414.2 612.0,416.0 C623.7,417.8 637.0,419.7 650.0,420.0 C663.0,420.3 679.0,419.7 690.0,418.0 C701.0,416.3 707.7,413.7 716.0,410.0 C724.3,406.3 731.8,402.3 740.0,396.0 C748.2,389.7 757.5,379.7 765.0,372.0 C772.5,364.3 779.5,356.0 785.0,350.0 C790.5,344.0 795.8,338.3 798.0,336.0" fill="none" stroke="#f5c8c6" stroke-width="2.6" stroke-linecap="round"/>
<path d="M786.0,470.0 C785.8,475.0 785.5,490.0 785.0,500.0 C784.5,510.0 784.2,518.7 783.0,530.0 C781.8,541.3 781.2,556.0 778.0,568.0 C774.8,580.0 770.0,593.5 764.0,602.0 C758.0,610.5 751.0,615.7 742.0,619.0 C733.0,622.3 719.0,622.8 710.0,622.0 C701.0,621.2 691.7,615.3 688.0,614.0" fill="none" stroke="#d97a80" stroke-width="5.6" stroke-linecap="round"/>
<path d="M786.0,470.0 C785.8,475.0 785.5,490.0 785.0,500.0 C784.5,510.0 784.2,518.7 783.0,530.0 C781.8,541.3 781.2,556.0 778.0,568.0 C774.8,580.0 770.0,593.5 764.0,602.0 C758.0,610.5 751.0,615.7 742.0,619.0 C733.0,622.3 719.0,622.8 710.0,622.0 C701.0,621.2 691.7,615.3 688.0,614.0" fill="none" stroke="#f5c8c6" stroke-width="2.6" stroke-linecap="round"/>
<path d="M498.4,243.0 C499.7,234.3 502.9,227.6 505.0,222.0 C507.1,216.4 506.5,214.0 511.0,209.4 C515.5,204.8 523.3,198.2 532.0,194.7 C540.7,191.2 552.9,189.6 563.4,188.4 C573.9,187.2 586.5,187.1 594.9,187.3 C603.3,187.5 609.6,189.4 613.8,189.4 C618.0,189.4 615.0,187.8 620.0,187.3 C625.0,186.8 636.0,186.2 644.0,186.6 C652.0,187.0 659.6,188.0 668.3,189.7 C677.0,191.4 688.7,194.9 696.0,197.0 C703.3,199.1 706.6,199.8 711.9,202.5 C717.2,205.2 724.0,210.0 728.0,213.5 C732.0,217.0 735.9,219.4 735.6,223.5 C735.3,227.6 733.6,231.9 726.4,238.0 C719.2,244.1 704.2,253.0 692.5,259.8 C680.8,266.6 666.8,274.2 656.3,279.0 C645.8,283.8 636.4,287.1 629.7,288.8 C623.0,290.6 622.5,289.0 615.9,289.5 C609.3,290.0 598.4,290.0 590.0,292.0 C581.6,294.0 571.7,298.7 565.5,301.7 C559.3,304.7 558.6,305.8 553.0,310.0 C547.4,314.2 539.5,321.7 532.0,326.8 C524.5,331.9 512.4,339.8 507.8,340.5 C503.2,341.2 506.1,336.8 504.7,331.0 C503.3,325.2 500.6,315.3 499.4,305.9 C498.2,296.5 497.5,284.9 497.3,274.4 C497.1,263.9 497.1,251.7 498.4,243.0Z" fill="#b5343f" stroke="#7a1d26" stroke-width="1.2" />
<path d="M498.4,243.0 C499.7,234.3 502.9,227.6 505.0,222.0 C507.1,216.4 506.5,214.0 511.0,209.4 C515.5,204.8 523.3,198.2 532.0,194.7 C540.7,191.2 552.9,189.6 563.4,188.4 C573.9,187.2 588.6,186.2 594.9,187.3 C601.2,188.4 600.0,189.2 601.0,195.0 C602.0,200.8 602.9,213.0 601.2,222.0 C599.5,231.0 596.0,241.5 590.7,249.2 C585.5,256.9 577.8,261.4 569.7,268.0 C561.7,274.6 550.4,282.7 542.4,289.0 C534.4,295.3 527.1,302.7 521.5,305.9 C515.9,309.1 512.6,309.0 508.9,308.0 C505.1,307.0 500.9,305.6 499.0,300.0 C497.1,294.4 497.4,283.9 497.3,274.4 C497.2,264.9 497.1,251.7 498.4,243.0Z" fill="#c44650" stroke="none" stroke-width="1" />
<path d="M625.0,190.0 C627.7,188.3 636.8,187.8 644.0,188.0 C651.2,188.2 659.3,189.2 668.0,191.0 C676.7,192.8 688.7,196.3 696.0,198.5 C703.3,200.7 706.8,201.2 712.0,204.0 C717.2,206.8 723.7,211.7 727.0,215.0 C730.3,218.3 733.8,221.2 732.0,224.0 C730.2,226.8 723.0,229.3 716.0,232.0 C709.0,234.7 697.7,239.0 690.0,240.0 C682.3,241.0 675.8,239.3 670.0,238.0 C664.2,236.7 659.0,234.7 655.0,232.0 C651.0,229.3 649.2,225.7 646.0,222.0 C642.8,218.3 639.0,214.0 636.0,210.0 C633.0,206.0 629.8,201.3 628.0,198.0 C626.2,194.7 622.3,191.7 625.0,190.0Z" fill="#c44852" stroke="none" stroke-width="1" />
<path d="M735.6,223.5 C736.7,224.2 733.6,231.9 726.4,238.0 C719.2,244.1 704.2,253.0 692.5,259.8 C680.8,266.6 666.8,274.2 656.3,279.0 C645.8,283.8 636.1,287.1 629.7,288.8 C623.3,290.5 619.3,290.5 618.0,289.0 C616.7,287.5 616.7,283.5 622.0,280.0 C627.3,276.5 638.7,273.0 650.0,268.0 C661.3,263.0 678.3,255.7 690.0,250.0 C701.7,244.3 712.4,238.4 720.0,234.0 C727.6,229.6 734.5,222.8 735.6,223.5Z" fill="#9c2833" stroke="none" stroke-width="1" />
<path d="M507.8,340.5 C509.8,340.3 524.5,331.9 532.0,326.8 C539.5,321.7 547.4,314.2 553.0,310.0 C558.6,305.8 559.3,304.7 565.5,301.7 C571.7,298.7 582.6,294.1 590.0,292.0 C597.4,289.9 608.3,289.8 610.0,289.0 C611.7,288.2 606.7,285.8 600.0,287.0 C593.3,288.2 579.2,292.2 570.0,296.0 C560.8,299.8 553.3,304.7 545.0,310.0 C536.7,315.3 526.2,322.9 520.0,328.0 C513.8,333.1 505.8,340.7 507.8,340.5Z" fill="#9c2833" stroke="none" stroke-width="1" />
<path d="M614.0,189.0 C616.2,191.7 623.9,197.8 627.0,205.0 C630.1,212.2 632.4,223.3 632.6,232.4 C632.9,241.5 632.3,252.4 628.5,259.7 C624.7,267.0 614.4,271.9 609.6,276.0 C604.9,280.1 601.6,282.7 600.0,284.0" fill="none" stroke="#7a1d26" stroke-width="2.2" />
<path d="M620.0,192.0 C621.8,195.0 628.3,203.0 631.0,210.0 C633.7,217.0 635.8,226.0 636.0,234.0 C636.2,242.0 635.0,251.3 632.0,258.0 C629.0,264.7 620.3,271.3 618.0,274.0" fill="none" stroke="#d4626c" stroke-width="1.6" />
<path d="M505.0,300.0 C504.5,295.0 502.0,280.8 502.0,270.0 C502.0,259.2 502.8,244.7 505.0,235.0 C507.2,225.3 510.5,218.0 515.0,212.0 C519.5,206.0 526.2,202.0 532.0,199.0 C537.8,196.0 547.0,194.8 550.0,194.0" fill="none" stroke="#e27a82" stroke-width="1.8" stroke-linecap="round"/>
<path d="M680.0,194.0 C683.3,194.8 694.0,197.0 700.0,199.0 C706.0,201.0 713.3,204.8 716.0,206.0" fill="none" stroke="#d8646e" stroke-width="1.5" stroke-linecap="round"/>
<path d="M560.3,297.0 C560.3,294.5 566.4,290.9 570.0,289.0 C573.6,287.1 576.7,286.2 581.7,285.3 C586.7,284.4 594.7,283.9 600.0,283.5 C605.3,283.1 610.2,282.8 613.7,283.0 C617.2,283.2 621.0,283.5 621.0,285.0 C621.0,286.5 617.8,289.3 614.0,292.0 C610.2,294.7 602.8,298.8 598.0,301.0 C593.2,303.2 589.7,305.0 585.0,305.5 C580.3,306.0 574.1,305.4 570.0,304.0 C565.9,302.6 560.3,299.5 560.3,297.0Z" fill="#46a83a" stroke="#2f7f2a" stroke-width="0.8" />
<path d="M566.0,294.0 C567.0,292.6 572.7,289.0 578.0,287.5 C583.3,286.0 592.3,285.5 598.0,285.0 C603.7,284.5 611.0,283.7 612.0,284.5 C613.0,285.3 608.0,288.4 604.0,290.0 C600.0,291.6 593.3,293.0 588.0,294.0 C582.7,295.0 575.7,296.0 572.0,296.0 C568.3,296.0 565.0,295.4 566.0,294.0Z" fill="#72c850" stroke="none" stroke-width="1" />
<path d="M620.9,285.3 C621.2,287.4 622.6,292.8 622.6,297.8 C622.6,302.9 620.8,308.8 620.9,315.6 C621.0,322.4 622.6,332.3 623.5,338.8 C624.4,345.3 626.4,350.4 626.2,354.8 C626.1,359.2 625.0,363.0 622.6,365.5 C620.2,368.0 613.8,369.2 612.0,370.0" fill="none" stroke="#2a7f2a" stroke-width="5.5" stroke-linecap="round"/>
<path d="M620.9,285.3 C621.2,287.4 622.6,292.8 622.6,297.8 C622.6,302.9 620.8,308.8 620.9,315.6 C621.0,322.4 622.6,332.3 623.5,338.8 C624.4,345.3 626.4,350.4 626.2,354.8 C626.1,359.2 625.0,363.0 622.6,365.5 C620.2,368.0 613.8,369.2 612.0,370.0" fill="none" stroke="#4cb444" stroke-width="3.2" stroke-linecap="round"/></g>
<text x="692" y="603.5" font-family="Liberation Sans,sans-serif" font-weight="bold" font-size="47" fill="#fff" fill-opacity="0.55" textLength="84" lengthAdjust="spacingAndGlyphs">alamy</text>
<path d="M69.5,5 L76.5,5 L79.5,12 L70.5,12Z" fill="#8a8a8a"/>
<text x="121" y="305" font-family="Liberation Sans,sans-serif" font-weight="bold" font-size="40" fill="#fff" fill-opacity="0.35" textLength="84" lengthAdjust="spacingAndGlyphs">alamy</text>
<text x="613" y="498" font-family="Liberation Sans,sans-serif" font-weight="bold" font-size="24" fill="#fff" fill-opacity="0.5" textLength="12" lengthAdjust="spacingAndGlyphs">a</text>
<text x="614" y="297" font-family="Liberation Sans,sans-serif" font-weight="bold" font-size="22" fill="#fff" fill-opacity="0.45" textLength="11" lengthAdjust="spacingAndGlyphs">a</text>
<text x="36" y="396" font-family="Liberation Sans,sans-serif" font-weight="bold" font-size="22" fill="#fff" fill-opacity="0.4" textLength="10" lengthAdjust="spacingAndGlyphs">a</text>
<text x="731" y="394" font-family="Liberation Sans,sans-serif" font-weight="bold" font-size="24" fill="#fff" fill-opacity="0.45" textLength="11" lengthAdjust="spacingAndGlyphs">a</text>
<text x="153" y="497" font-family="Liberation Sans,sans-serif" font-weight="bold" font-size="24" fill="#fff" fill-opacity="0.55" textLength="11" lengthAdjust="spacingAndGlyphs">a</text>
<text x="150" y="697" font-family="Liberation Sans,sans-serif" font-weight="bold" font-size="24" fill="#fff" fill-opacity="0.5" textLength="11" lengthAdjust="spacingAndGlyphs">a</text>
<text x="523" y="407" font-family="Liberation Sans,sans-serif" font-weight="bold" font-size="30" fill="#fff" fill-opacity="0.45" textLength="24" lengthAdjust="spacingAndGlyphs">ly</text>
<text class="lbl" x="489.1" y="122.6" textLength="35.7" lengthAdjust="spacingAndGlyphs">liver</text>
<text class="lbl" x="879.3" y="228.2" textLength="74.2" lengthAdjust="spacingAndGlyphs">stomach</text>
<text class="lbl" x="344.9" y="289.6" textLength="97.9" lengthAdjust="spacingAndGlyphs">gallbladder</text>
<text class="lbl" x="882.6" y="287.5" textLength="76.7" lengthAdjust="spacingAndGlyphs">pancreas</text>
<text class="lbl" x="352.6" y="358.5" textLength="95.7" lengthAdjust="spacingAndGlyphs">duodenum</text>
<text class="lbl" x="859.7" y="368.2" textLength="134.6" lengthAdjust="spacingAndGlyphs">left colic flexure</text>
<text class="lbl" x="313.1" y="425" textLength="138.7" lengthAdjust="spacingAndGlyphs">duodena jejunal</text>
<text class="lbl" x="312.0" y="449.4" textLength="72.9" lengthAdjust="spacingAndGlyphs">junction</text>
<text class="lbl" x="848.1" y="433.2" textLength="139.8" lengthAdjust="spacingAndGlyphs">transverse colon</text>
<text class="lbl" x="317.1" y="516.3" textLength="139.8" lengthAdjust="spacingAndGlyphs">ascending colon</text>
<text class="lbl" x="892.1" y="519.9" textLength="72.1" lengthAdjust="spacingAndGlyphs">jejunum</text>
<text class="lbl" x="857.1" y="584.3" textLength="150.4" lengthAdjust="spacingAndGlyphs">descending colon</text>
<text class="lbl" x="408.7" y="630" textLength="57.5" lengthAdjust="spacingAndGlyphs">cecum</text>
<text class="lbl" x="818.5" y="658.3" textLength="120.8" lengthAdjust="spacingAndGlyphs">sigmoid colon</text>
<text class="lbl" x="406.1" y="705.3" textLength="81.9" lengthAdjust="spacingAndGlyphs">appendix</text>
<text class="lbl" x="767.3" y="715.9" textLength="61.0" lengthAdjust="spacingAndGlyphs">rectum</text>
<text class="lbl" x="517.2" y="737" textLength="48.0" lengthAdjust="spacingAndGlyphs">ileum</text>
<text class="lbl" x="688.1" y="753.3" textLength="85.7" lengthAdjust="spacingAndGlyphs">anal canal</text>
<line x1="520.4" y1="132.2" x2="572" y2="213.8" stroke="#111" stroke-width="2.2" stroke-linecap="round"/>
<line x1="874.6" y1="223" x2="767.6" y2="260" stroke="#111" stroke-width="2.2" stroke-linecap="round"/>
<line x1="449" y1="287.8" x2="575" y2="297" stroke="#111" stroke-width="2.2" stroke-linecap="round"/>
<line x1="874.6" y1="283" x2="647" y2="361.5" stroke="#111" stroke-width="2.2" stroke-linecap="round"/>
<line x1="460" y1="355" x2="584" y2="342.5" stroke="#111" stroke-width="2.2" stroke-linecap="round"/>
<line x1="800.7" y1="336.4" x2="851.6" y2="360" stroke="#111" stroke-width="2.2" stroke-linecap="round"/>
<line x1="460.7" y1="419.9" x2="519.9" y2="404.4" stroke="#111" stroke-width="2.2" stroke-linecap="round"/>
<line x1="839.7" y1="424.2" x2="748" y2="405" stroke="#111" stroke-width="2.2" stroke-linecap="round"/>
<line x1="465.9" y1="509.9" x2="505.8" y2="509.9" stroke="#111" stroke-width="2.2" stroke-linecap="round"/>
<line x1="883.1" y1="513.7" x2="730" y2="463" stroke="#111" stroke-width="2.2" stroke-linecap="round"/>
<line x1="802" y1="545" x2="851" y2="575.9" stroke="#111" stroke-width="2.2" stroke-linecap="round"/>
<line x1="473.9" y1="620.4" x2="549.8" y2="580.6" stroke="#111" stroke-width="2.2" stroke-linecap="round"/>
<line x1="748.9" y1="639.9" x2="808" y2="656.7" stroke="#111" stroke-width="2.2" stroke-linecap="round"/>
<line x1="491.9" y1="691.2" x2="581.9" y2="578" stroke="#111" stroke-width="2.2" stroke-linecap="round"/>
<line x1="661.5" y1="661.3" x2="758" y2="709.8" stroke="#111" stroke-width="2.2" stroke-linecap="round"/>
<line x1="557" y1="715.6" x2="614" y2="564.6" stroke="#111" stroke-width="2.2" stroke-linecap="round"/>
<line x1="666" y1="710.4" x2="681.4" y2="742.6" stroke="#111" stroke-width="2.2" stroke-linecap="round"/>
</svg>
</body></html>
